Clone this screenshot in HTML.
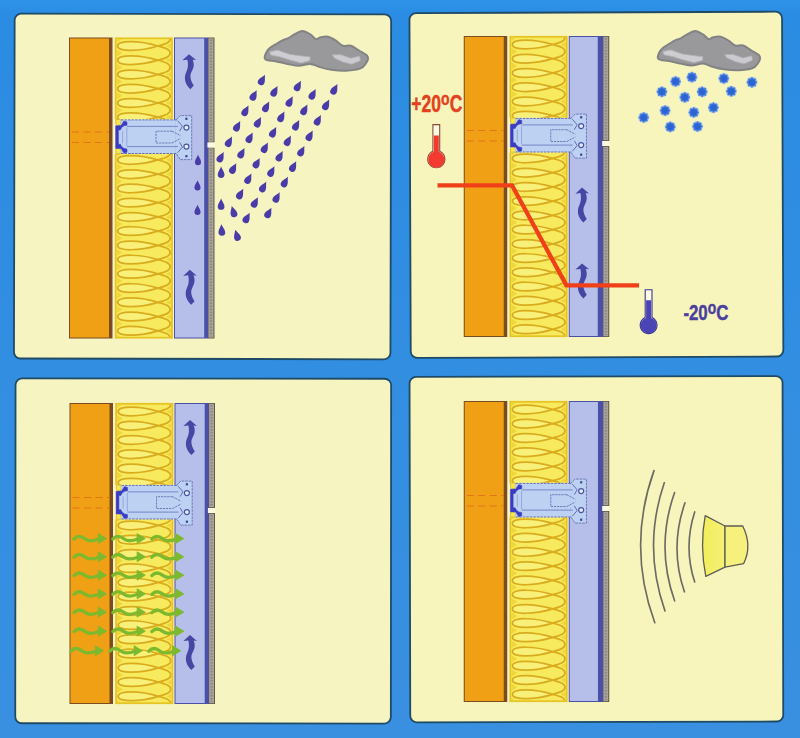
<!DOCTYPE html>
<html><head><meta charset="utf-8"><title>Ventilated facade</title>
<style>html,body{margin:0;padding:0;background:#2a8ce2;}body{width:800px;height:738px;overflow:hidden;font-family:"Liberation Sans",sans-serif;}svg{display:block}</style>
</head><body>
<svg width="800" height="738" viewBox="0 0 800 738" font-family="'Liberation Sans', sans-serif">
<defs><radialGradient id="snow"><stop offset="0" stop-color="#2f66d2"/><stop offset="0.55" stop-color="#3a78dc"/><stop offset="0.8" stop-color="#a9c4e6" stop-opacity="0.8"/><stop offset="1" stop-color="#e8efd8" stop-opacity="0"/></radialGradient>
<linearGradient id="bgv" x1="0" y1="0" x2="0" y2="1"><stop offset="0" stop-color="#2e94ea"/><stop offset="0.02" stop-color="#2a8ce2"/><stop offset="1" stop-color="#3a90e0"/></linearGradient>
<linearGradient id="cone" x1="0" y1="0" x2="1" y2="0"><stop offset="0" stop-color="#f2ee58"/><stop offset="1" stop-color="#f5f078"/></linearGradient>
<filter id="b1" x="-20%" y="-20%" width="140%" height="140%"><feGaussianBlur stdDeviation="0.7"/></filter>
<filter id="b0" x="-10%" y="-10%" width="120%" height="120%"><feGaussianBlur stdDeviation="0.55"/></filter>
</defs>
<rect width="800" height="738" fill="url(#bgv)"/>
<rect x="14.3" y="14" width="376.5" height="344.9" rx="6.5" fill="#f6f4c0" stroke="#1f4a66" stroke-width="1.8" transform="rotate(0.12 202.55 186.45)"/>
<rect x="410.1" y="12.4" width="372.6" height="344.8" rx="6.5" fill="#f7f5bc" stroke="#1f4a66" stroke-width="1.8" transform="rotate(-0.22 596.4000000000001 184.8)"/>
<rect x="15.4" y="378.6" width="375.6" height="344.8" rx="6.5" fill="#f6f4c0" stroke="#1f4a66" stroke-width="1.8" transform="rotate(0.05 203.20000000000002 551.0)"/>
<rect x="409.9" y="376.5" width="373" height="345.4" rx="6.5" fill="#f7f5bc" stroke="#1f4a66" stroke-width="1.8" transform="rotate(-0.12 596.4 549.2)"/>
<g transform="translate(69,37.5)">
<rect x="0" y="0" width="43.5" height="301" fill="#7a4c20"/>
<rect x="1" y="1" width="39" height="299" fill="#f0a014"/>
<path d="M3,94.5H40 M3,105H40" stroke="#e2741a" stroke-width="1.1" stroke-dasharray="7,4.5" fill="none"/>
<rect x="45" y="0" width="59.5" height="301" fill="#fbf7d0"/>
<rect x="46.6" y="0.8" width="56.4" height="299.4" fill="#f7ea5e" stroke="#e6c424" stroke-width="1.8"/>
<clipPath id="ci1"><rect x="47.4" y="1.6" width="54.8" height="297.8"/></clipPath>
<g clip-path="url(#ci1)" fill="#f9f07a" stroke="#d9ac1e" stroke-width="1.75">
<path d="M46.4,-3.1 L53.4,1.4 L46.4,5.9Z M103.2,-9.1 L96.7,-5.7 L103.2,-2.3Z M46.4,11.1 L53.4,15.6 L46.4,20.1Z M103.2,5.1 L96.7,8.5 L103.2,11.9Z M46.4,25.3 L53.4,29.9 L46.4,34.4Z M103.2,19.3 L96.7,22.7 L103.2,26.1Z M46.4,39.6 L53.4,44.1 L46.4,48.6Z M103.2,33.6 L96.7,37.0 L103.2,40.4Z M46.4,53.8 L53.4,58.3 L46.4,62.9Z M103.2,47.8 L96.7,51.2 L103.2,54.6Z M46.4,68.1 L53.4,72.6 L46.4,77.1Z M103.2,62.1 L96.7,65.5 L103.2,68.9Z M46.4,82.3 L53.4,86.8 L46.4,91.3Z M103.2,76.3 L96.7,79.7 L103.2,83.1Z M46.4,96.5 L53.4,101.1 L46.4,105.6Z M103.2,90.5 L96.7,93.9 L103.2,97.3Z M46.4,110.8 L53.4,115.3 L46.4,119.8Z M103.2,104.8 L96.7,108.2 L103.2,111.6Z M46.4,125.0 L53.4,129.5 L46.4,134.1Z M103.2,119.0 L96.7,122.4 L103.2,125.8Z M46.4,139.3 L53.4,143.8 L46.4,148.3Z M103.2,133.3 L96.7,136.7 L103.2,140.1Z M46.4,153.5 L53.4,158.0 L46.4,162.5Z M103.2,147.5 L96.7,150.9 L103.2,154.3Z M46.4,167.7 L53.4,172.3 L46.4,176.8Z M103.2,161.7 L96.7,165.1 L103.2,168.5Z M46.4,182.0 L53.4,186.5 L46.4,191.0Z M103.2,176.0 L96.7,179.4 L103.2,182.8Z M46.4,196.2 L53.4,200.7 L46.4,205.3Z M103.2,190.2 L96.7,193.6 L103.2,197.0Z M46.4,210.5 L53.4,215.0 L46.4,219.5Z M103.2,204.5 L96.7,207.9 L103.2,211.3Z M46.4,224.7 L53.4,229.2 L46.4,233.7Z M103.2,218.7 L96.7,222.1 L103.2,225.5Z M46.4,238.9 L53.4,243.5 L46.4,248.0Z M103.2,232.9 L96.7,236.3 L103.2,239.7Z M46.4,253.2 L53.4,257.7 L46.4,262.2Z M103.2,247.2 L96.7,250.6 L103.2,254.0Z M46.4,267.4 L53.4,271.9 L46.4,276.5Z M103.2,261.4 L96.7,264.8 L103.2,268.2Z M46.4,281.7 L53.4,286.2 L46.4,290.7Z M103.2,275.7 L96.7,279.1 L103.2,282.5Z M46.4,295.9 L53.4,300.4 L46.4,304.9Z M103.2,289.9 L96.7,293.3 L103.2,296.7Z M46.4,310.1 L53.4,314.7 L46.4,319.2Z M103.2,304.1 L96.7,307.5 L103.2,310.9Z" fill="#f0d63a" stroke="none"/>
<path d="M89.0,-5.7 C70.4,-11.3 48.6,-11.8 48.6,-5.7 C48.6,0.3 70.4,-0.2 89.0,-5.7Z"/>
<path d="M89.0,-5.7 C95.7,-3.9 101.2,-2.6 101.2,1.4 C101.2,5.4 95.7,6.6 89.0,8.5" fill="none"/>
<path d="M89.0,8.5 C70.4,2.9 48.6,2.5 48.6,8.5 C48.6,14.5 70.4,14.1 89.0,8.5Z"/>
<path d="M89.0,8.5 C95.7,10.4 101.2,11.6 101.2,15.6 C101.2,19.6 95.7,20.9 89.0,22.7" fill="none"/>
<path d="M89.0,22.7 C70.4,17.2 48.6,16.7 48.6,22.7 C48.6,28.8 70.4,28.3 89.0,22.7Z"/>
<path d="M89.0,22.7 C95.7,24.6 101.2,25.9 101.2,29.9 C101.2,33.8 95.7,35.1 89.0,37.0" fill="none"/>
<path d="M89.0,37.0 C70.4,31.4 48.6,31.0 48.6,37.0 C48.6,43.0 70.4,42.6 89.0,37.0Z"/>
<path d="M89.0,37.0 C95.7,38.8 101.2,40.1 101.2,44.1 C101.2,48.1 95.7,49.4 89.0,51.2" fill="none"/>
<path d="M89.0,51.2 C70.4,45.6 48.6,45.2 48.6,51.2 C48.6,57.2 70.4,56.8 89.0,51.2Z"/>
<path d="M89.0,51.2 C95.7,53.1 101.2,54.4 101.2,58.3 C101.2,62.3 95.7,63.6 89.0,65.5" fill="none"/>
<path d="M89.0,65.5 C70.4,59.9 48.6,59.4 48.6,65.5 C48.6,71.5 70.4,71.1 89.0,65.5Z"/>
<path d="M89.0,65.5 C95.7,67.3 101.2,68.6 101.2,72.6 C101.2,76.6 95.7,77.8 89.0,79.7" fill="none"/>
<path d="M89.0,79.7 C70.4,74.1 48.6,73.7 48.6,79.7 C48.6,85.7 70.4,85.3 89.0,79.7Z"/>
<path d="M89.0,79.7 C95.7,81.6 101.2,82.8 101.2,86.8 C101.2,90.8 95.7,92.1 89.0,93.9" fill="none"/>
<path d="M89.0,93.9 C70.4,88.3 48.6,87.9 48.6,93.9 C48.6,100.0 70.4,99.5 89.0,93.9Z"/>
<path d="M89.0,93.9 C95.7,95.8 101.2,97.1 101.2,101.1 C101.2,105.0 95.7,106.3 89.0,108.2" fill="none"/>
<path d="M89.0,108.2 C70.4,102.6 48.6,102.2 48.6,108.2 C48.6,114.2 70.4,113.8 89.0,108.2Z"/>
<path d="M89.0,108.2 C95.7,110.0 101.2,111.3 101.2,115.3 C101.2,119.3 95.7,120.6 89.0,122.4" fill="none"/>
<path d="M89.0,122.4 C70.4,116.8 48.6,116.4 48.6,122.4 C48.6,128.4 70.4,128.0 89.0,122.4Z"/>
<path d="M89.0,122.4 C95.7,124.3 101.2,125.6 101.2,129.5 C101.2,133.5 95.7,134.8 89.0,136.7" fill="none"/>
<path d="M89.0,136.7 C70.4,131.1 48.6,130.6 48.6,136.7 C48.6,142.7 70.4,142.2 89.0,136.7Z"/>
<path d="M89.0,136.7 C95.7,138.5 101.2,139.8 101.2,143.8 C101.2,147.8 95.7,149.0 89.0,150.9" fill="none"/>
<path d="M89.0,150.9 C70.4,145.3 48.6,144.9 48.6,150.9 C48.6,156.9 70.4,156.5 89.0,150.9Z"/>
<path d="M89.0,150.9 C95.7,152.8 101.2,154.0 101.2,158.0 C101.2,162.0 95.7,163.3 89.0,165.1" fill="none"/>
<path d="M89.0,165.1 C70.4,159.6 48.6,159.1 48.6,165.1 C48.6,171.2 70.4,170.7 89.0,165.1Z"/>
<path d="M89.0,165.1 C95.7,167.0 101.2,168.3 101.2,172.3 C101.2,176.2 95.7,177.5 89.0,179.4" fill="none"/>
<path d="M89.0,179.4 C70.4,173.8 48.6,173.4 48.6,179.4 C48.6,185.4 70.4,185.0 89.0,179.4Z"/>
<path d="M89.0,179.4 C95.7,181.2 101.2,182.5 101.2,186.5 C101.2,190.5 95.7,191.8 89.0,193.6" fill="none"/>
<path d="M89.0,193.6 C70.4,188.0 48.6,187.6 48.6,193.6 C48.6,199.6 70.4,199.2 89.0,193.6Z"/>
<path d="M89.0,193.6 C95.7,195.5 101.2,196.8 101.2,200.7 C101.2,204.7 95.7,206.0 89.0,207.9" fill="none"/>
<path d="M89.0,207.9 C70.4,202.3 48.6,201.8 48.6,207.9 C48.6,213.9 70.4,213.5 89.0,207.9Z"/>
<path d="M89.0,207.9 C95.7,209.7 101.2,211.0 101.2,215.0 C101.2,219.0 95.7,220.2 89.0,222.1" fill="none"/>
<path d="M89.0,222.1 C70.4,216.5 48.6,216.1 48.6,222.1 C48.6,228.1 70.4,227.7 89.0,222.1Z"/>
<path d="M89.0,222.1 C95.7,224.0 101.2,225.2 101.2,229.2 C101.2,233.2 95.7,234.5 89.0,236.3" fill="none"/>
<path d="M89.0,236.3 C70.4,230.8 48.6,230.3 48.6,236.3 C48.6,242.4 70.4,241.9 89.0,236.3Z"/>
<path d="M89.0,236.3 C95.7,238.2 101.2,239.5 101.2,243.5 C101.2,247.4 95.7,248.7 89.0,250.6" fill="none"/>
<path d="M89.0,250.6 C70.4,245.0 48.6,244.6 48.6,250.6 C48.6,256.6 70.4,256.2 89.0,250.6Z"/>
<path d="M89.0,250.6 C95.7,252.4 101.2,253.7 101.2,257.7 C101.2,261.7 95.7,263.0 89.0,264.8" fill="none"/>
<path d="M89.0,264.8 C70.4,259.2 48.6,258.8 48.6,264.8 C48.6,270.8 70.4,270.4 89.0,264.8Z"/>
<path d="M89.0,264.8 C95.7,266.7 101.2,268.0 101.2,271.9 C101.2,275.9 95.7,277.2 89.0,279.1" fill="none"/>
<path d="M89.0,279.1 C70.4,273.5 48.6,273.0 48.6,279.1 C48.6,285.1 70.4,284.7 89.0,279.1Z"/>
<path d="M89.0,279.1 C95.7,280.9 101.2,282.2 101.2,286.2 C101.2,290.2 95.7,291.4 89.0,293.3" fill="none"/>
<path d="M89.0,293.3 C70.4,287.7 48.6,287.3 48.6,293.3 C48.6,299.3 70.4,298.9 89.0,293.3Z"/>
<path d="M89.0,293.3 C95.7,295.2 101.2,296.4 101.2,300.4 C101.2,304.4 95.7,305.7 89.0,307.5" fill="none"/>
<path d="M89.0,307.5 C70.4,302.0 48.6,301.5 48.6,307.5 C48.6,313.6 70.4,313.1 89.0,307.5Z"/>
<path d="M89.0,307.5 C95.7,309.4 101.2,310.7 101.2,314.7 C101.2,318.6 95.7,319.9 89.0,321.8" fill="none"/>
</g>
<rect x="105" y="0" width="34.5" height="301" fill="#4a50a8"/>
<rect x="106" y="1" width="29.19999999999999" height="299" fill="#b6bfe9"/>
<rect x="139.2" y="0" width="6.3" height="105" fill="#5c5a42"/>
<rect x="139.6" y="0.8" width="4.9" height="103.4" fill="#aaa29c"/>
<rect x="139.2" y="110" width="6.3" height="191" fill="#5c5a42"/>
<rect x="139.6" y="110.8" width="4.9" height="189.4" fill="#aaa29c"/>
<path d="M142,2V103 M142,112V299" stroke="#8c8680" stroke-width="2.2" stroke-dasharray="1.6,1.4" fill="none"/>
<rect x="138.4" y="105" width="7.4" height="5" fill="#fbfae0"/>
<rect x="45" y="81.8" width="60" height="34.6" fill="#fbf7d0"/>
<path d="M46.8,82h4.8v3.6a2.4,2.6 0 0 1 -4.8,0z M46.8,116.2h4.8v-3.4a2.4,2.6 0 0 0 -4.8,0z" fill="#f6e84a" stroke="#dab424" stroke-width="0.9"/>
<rect x="51.6" y="82.4" width="57" height="33.6" fill="#bdd1f2"/>
<rect x="47" y="88.4" width="6" height="22.4" fill="#bdd1f2"/>
<path d="M52,82.4H108.4 M52,116H108.4" stroke="#6470b2" stroke-width="1" stroke-dasharray="2.6,0.9" fill="none"/>
<path d="M107.2,82.4 L111.2,78.1 L122.7,78.1 L122.7,122.1 L111.2,122.1 L107.2,116 Z" fill="#bdd1f2" stroke="#6470b2" stroke-width="0.9" stroke-dasharray="2.6,0.9"/>
<path d="M106.4,83 h2.6 v32.4 h-2.6z" fill="#bdd1f2"/>
<path d="M58,88.9H109 M58,109.1H109" stroke="#7888c6" stroke-width="1" fill="none"/>
<path d="M103,93.7H87V105.5H103 M103,93.7 L111.6,98.2 M103,105.5 L111.6,101" stroke="#6470b2" stroke-width="0.9" stroke-dasharray="2.2,0.9" fill="none"/>
<path d="M108.6,83.2 L113.4,88.8 L110.6,93.6 M108.6,115.2 L113.4,109.6 L110.6,104.8" stroke="#5862aa" stroke-width="0.9" fill="none"/>
<path d="M46.6,88.3 L46.6,110.9 L52,111.1 L53.8,113.9 L55,115.6 L58,114.7 L58,111.5 L55,110.9 L52.6,109.1 L51.4,106.7 L49.4,106.7 L49.4,92.5 L51.4,92.5 L52.6,90.1 L55,88.3 L58,87.7 L58,84.5 L55,83.6 L53.8,85.3 L52,88.1 Z" fill="#3a3cc2" stroke="#3a3cc2" stroke-width="0.5" stroke-linejoin="round"/>
<path d="M53.6,93.5V105.7 M57.8,90V108.2" stroke="#8c9cd6" stroke-width="0.8" fill="none"/>
<circle cx="117.4" cy="90.1" r="2.5" fill="#e6ecfb" stroke="#4a54a4" stroke-width="1.2"/>
<circle cx="117.4" cy="109.1" r="2.5" fill="#e6ecfb" stroke="#4a54a4" stroke-width="1.2"/>
<rect x="116.3" y="80.2" width="2.2" height="2.2" fill="#3c4498"/>
<rect x="116.3" y="117.6" width="2.2" height="2.2" fill="#3c4498"/>
</g>
<g transform="translate(189.0,54.2)" fill="#4646a4"><path d="M0,0 L7,5.9 L3.6,5.5 C5.6,9.8 4.8,13.6 2.6,17.6 C0.6,21.2 1,25.6 4.8,31.4 L1.4,35 C-4.2,30 -5.4,23.4 -2.8,18 C-0.9,14 -0.6,10 -1.6,5.5 L-6.6,6.1 Z"/></g>
<g transform="translate(189.8,269.8)" fill="#4646a4"><path d="M0,0 L7,5.9 L3.6,5.5 C5.6,9.8 4.8,13.6 2.6,17.6 C0.6,21.2 1,25.6 4.8,31.4 L1.4,35 C-4.2,30 -5.4,23.4 -2.8,18 C-0.9,14 -0.6,10 -1.6,5.5 L-6.6,6.1 Z"/></g>
<g transform="translate(255,20) scale(1.0)"><path d="M9.7,38.2 C9.5,36.8 10.8,33.4 11.7,31.7 C12.6,29.9 13.7,29.0 15.4,27.6 C17.1,26.3 19.9,24.8 21.9,23.6 C24.0,22.3 25.7,21.2 27.6,20.3 C29.5,19.4 31.4,19.1 33.3,18.2 C35.2,17.3 36.7,15.8 39.0,14.6 C41.3,13.4 44.4,11.1 47.1,11.0 C49.8,11.0 52.9,12.9 55.2,14.3 C57.6,15.7 59.3,18.6 60.9,19.2 C62.6,19.7 63.0,18.0 65.0,17.5 C67.0,17.1 70.4,16.2 73.1,16.7 C75.8,17.3 78.8,19.3 81.2,20.8 C83.7,22.3 85.3,24.9 87.7,25.7 C90.2,26.5 93.2,24.9 95.9,25.7 C98.6,26.5 101.3,28.9 104.0,30.5 C106.7,32.2 110.7,34.2 112.1,35.7 C113.6,37.3 113.0,38.5 112.8,39.8 C112.5,41.2 111.7,42.4 110.5,43.9 C109.3,45.3 108.9,47.3 105.6,48.4 C102.4,49.6 95.9,50.5 91.0,50.7 C86.1,50.9 80.7,50.3 76.4,49.7 C72.0,49.1 68.5,48.1 65.0,47.1 C61.5,46.1 58.8,44.1 55.2,43.9 C51.7,43.7 47.7,45.8 43.9,45.8 C40.1,45.8 36.3,44.6 32.5,43.9 C28.7,43.1 24.4,42.0 21.1,41.4 C17.9,40.8 14.9,40.8 13.0,40.3 C11.1,39.8 10.0,39.6 9.7,38.2 Z" fill="#99999c" stroke="#838384" stroke-width="2" stroke-linejoin="round" filter="url(#b0)"/><polygon points="14.9,31.8 22.7,30.2 34.9,34.4 47.1,36.1 55.2,37.0 54.9,40.6 46.3,42.9 34.9,40.0 24.4,36.7 15.9,35.1" fill="#cdcdd2" stroke="#b4b4b8" stroke-width="0.8" stroke-linejoin="round" filter="url(#b1)"/><polygon points="77.3,34.8 86.1,34.8 95.9,38.3 104.6,36.1 105.3,40.6 96.8,44.2 87.7,41.9 79.3,38.0" fill="#cacad0" stroke="#b0b0b6" stroke-width="0.8" stroke-linejoin="round" filter="url(#b1)"/></g>
<path transform="translate(262.2,80.0) rotate(28) scale(0.94)" d="M0,-6.4 C1.2,-3.2 3.6,-0.6 3.6,2.2 A3.6,3.6 0 0 1 -3.6,2.2 C-3.6,-0.6 -1.2,-3.2 0,-6.4Z" fill="#4a3ca8"/>
<path transform="translate(253.9,95.5) rotate(28) scale(0.94)" d="M0,-6.4 C1.2,-3.2 3.6,-0.6 3.6,2.2 A3.6,3.6 0 0 1 -3.6,2.2 C-3.6,-0.6 -1.2,-3.2 0,-6.4Z" fill="#4a3ca8"/>
<path transform="translate(245.7,110.9) rotate(28) scale(0.94)" d="M0,-6.4 C1.2,-3.2 3.6,-0.6 3.6,2.2 A3.6,3.6 0 0 1 -3.6,2.2 C-3.6,-0.6 -1.2,-3.2 0,-6.4Z" fill="#4a3ca8"/>
<path transform="translate(237.4,126.3) rotate(28) scale(0.94)" d="M0,-6.4 C1.2,-3.2 3.6,-0.6 3.6,2.2 A3.6,3.6 0 0 1 -3.6,2.2 C-3.6,-0.6 -1.2,-3.2 0,-6.4Z" fill="#4a3ca8"/>
<path transform="translate(229.2,141.8) rotate(28) scale(0.94)" d="M0,-6.4 C1.2,-3.2 3.6,-0.6 3.6,2.2 A3.6,3.6 0 0 1 -3.6,2.2 C-3.6,-0.6 -1.2,-3.2 0,-6.4Z" fill="#4a3ca8"/>
<path transform="translate(220.9,157.2) rotate(28) scale(0.94)" d="M0,-6.4 C1.2,-3.2 3.6,-0.6 3.6,2.2 A3.6,3.6 0 0 1 -3.6,2.2 C-3.6,-0.6 -1.2,-3.2 0,-6.4Z" fill="#4a3ca8"/>
<path transform="translate(274.7,91.4) rotate(28) scale(0.94)" d="M0,-6.4 C1.2,-3.2 3.6,-0.6 3.6,2.2 A3.6,3.6 0 0 1 -3.6,2.2 C-3.6,-0.6 -1.2,-3.2 0,-6.4Z" fill="#4a3ca8"/>
<path transform="translate(266.4,106.9) rotate(28) scale(0.94)" d="M0,-6.4 C1.2,-3.2 3.6,-0.6 3.6,2.2 A3.6,3.6 0 0 1 -3.6,2.2 C-3.6,-0.6 -1.2,-3.2 0,-6.4Z" fill="#4a3ca8"/>
<path transform="translate(258.2,122.3) rotate(28) scale(0.94)" d="M0,-6.4 C1.2,-3.2 3.6,-0.6 3.6,2.2 A3.6,3.6 0 0 1 -3.6,2.2 C-3.6,-0.6 -1.2,-3.2 0,-6.4Z" fill="#4a3ca8"/>
<path transform="translate(249.9,137.8) rotate(28) scale(0.94)" d="M0,-6.4 C1.2,-3.2 3.6,-0.6 3.6,2.2 A3.6,3.6 0 0 1 -3.6,2.2 C-3.6,-0.6 -1.2,-3.2 0,-6.4Z" fill="#4a3ca8"/>
<path transform="translate(241.7,153.2) rotate(28) scale(0.94)" d="M0,-6.4 C1.2,-3.2 3.6,-0.6 3.6,2.2 A3.6,3.6 0 0 1 -3.6,2.2 C-3.6,-0.6 -1.2,-3.2 0,-6.4Z" fill="#4a3ca8"/>
<path transform="translate(233.4,168.6) rotate(28) scale(0.94)" d="M0,-6.4 C1.2,-3.2 3.6,-0.6 3.6,2.2 A3.6,3.6 0 0 1 -3.6,2.2 C-3.6,-0.6 -1.2,-3.2 0,-6.4Z" fill="#4a3ca8"/>
<path transform="translate(298.1,86.0) rotate(28) scale(0.94)" d="M0,-6.4 C1.2,-3.2 3.6,-0.6 3.6,2.2 A3.6,3.6 0 0 1 -3.6,2.2 C-3.6,-0.6 -1.2,-3.2 0,-6.4Z" fill="#4a3ca8"/>
<path transform="translate(289.9,101.5) rotate(28) scale(0.94)" d="M0,-6.4 C1.2,-3.2 3.6,-0.6 3.6,2.2 A3.6,3.6 0 0 1 -3.6,2.2 C-3.6,-0.6 -1.2,-3.2 0,-6.4Z" fill="#4a3ca8"/>
<path transform="translate(281.6,116.9) rotate(28) scale(0.94)" d="M0,-6.4 C1.2,-3.2 3.6,-0.6 3.6,2.2 A3.6,3.6 0 0 1 -3.6,2.2 C-3.6,-0.6 -1.2,-3.2 0,-6.4Z" fill="#4a3ca8"/>
<path transform="translate(273.4,132.3) rotate(28) scale(0.94)" d="M0,-6.4 C1.2,-3.2 3.6,-0.6 3.6,2.2 A3.6,3.6 0 0 1 -3.6,2.2 C-3.6,-0.6 -1.2,-3.2 0,-6.4Z" fill="#4a3ca8"/>
<path transform="translate(265.1,147.8) rotate(28) scale(0.94)" d="M0,-6.4 C1.2,-3.2 3.6,-0.6 3.6,2.2 A3.6,3.6 0 0 1 -3.6,2.2 C-3.6,-0.6 -1.2,-3.2 0,-6.4Z" fill="#4a3ca8"/>
<path transform="translate(256.9,163.2) rotate(28) scale(0.94)" d="M0,-6.4 C1.2,-3.2 3.6,-0.6 3.6,2.2 A3.6,3.6 0 0 1 -3.6,2.2 C-3.6,-0.6 -1.2,-3.2 0,-6.4Z" fill="#4a3ca8"/>
<path transform="translate(248.6,178.7) rotate(28) scale(0.94)" d="M0,-6.4 C1.2,-3.2 3.6,-0.6 3.6,2.2 A3.6,3.6 0 0 1 -3.6,2.2 C-3.6,-0.6 -1.2,-3.2 0,-6.4Z" fill="#4a3ca8"/>
<path transform="translate(240.4,194.1) rotate(28) scale(0.94)" d="M0,-6.4 C1.2,-3.2 3.6,-0.6 3.6,2.2 A3.6,3.6 0 0 1 -3.6,2.2 C-3.6,-0.6 -1.2,-3.2 0,-6.4Z" fill="#4a3ca8"/>
<path transform="translate(312.9,94.4) rotate(28) scale(0.94)" d="M0,-6.4 C1.2,-3.2 3.6,-0.6 3.6,2.2 A3.6,3.6 0 0 1 -3.6,2.2 C-3.6,-0.6 -1.2,-3.2 0,-6.4Z" fill="#4a3ca8"/>
<path transform="translate(304.6,109.9) rotate(28) scale(0.94)" d="M0,-6.4 C1.2,-3.2 3.6,-0.6 3.6,2.2 A3.6,3.6 0 0 1 -3.6,2.2 C-3.6,-0.6 -1.2,-3.2 0,-6.4Z" fill="#4a3ca8"/>
<path transform="translate(296.4,125.3) rotate(28) scale(0.94)" d="M0,-6.4 C1.2,-3.2 3.6,-0.6 3.6,2.2 A3.6,3.6 0 0 1 -3.6,2.2 C-3.6,-0.6 -1.2,-3.2 0,-6.4Z" fill="#4a3ca8"/>
<path transform="translate(288.1,140.8) rotate(28) scale(0.94)" d="M0,-6.4 C1.2,-3.2 3.6,-0.6 3.6,2.2 A3.6,3.6 0 0 1 -3.6,2.2 C-3.6,-0.6 -1.2,-3.2 0,-6.4Z" fill="#4a3ca8"/>
<path transform="translate(279.9,156.2) rotate(28) scale(0.94)" d="M0,-6.4 C1.2,-3.2 3.6,-0.6 3.6,2.2 A3.6,3.6 0 0 1 -3.6,2.2 C-3.6,-0.6 -1.2,-3.2 0,-6.4Z" fill="#4a3ca8"/>
<path transform="translate(271.6,171.6) rotate(28) scale(0.94)" d="M0,-6.4 C1.2,-3.2 3.6,-0.6 3.6,2.2 A3.6,3.6 0 0 1 -3.6,2.2 C-3.6,-0.6 -1.2,-3.2 0,-6.4Z" fill="#4a3ca8"/>
<path transform="translate(263.4,187.1) rotate(28) scale(0.94)" d="M0,-6.4 C1.2,-3.2 3.6,-0.6 3.6,2.2 A3.6,3.6 0 0 1 -3.6,2.2 C-3.6,-0.6 -1.2,-3.2 0,-6.4Z" fill="#4a3ca8"/>
<path transform="translate(255.1,202.5) rotate(28) scale(0.94)" d="M0,-6.4 C1.2,-3.2 3.6,-0.6 3.6,2.2 A3.6,3.6 0 0 1 -3.6,2.2 C-3.6,-0.6 -1.2,-3.2 0,-6.4Z" fill="#4a3ca8"/>
<path transform="translate(246.9,218.0) rotate(28) scale(0.94)" d="M0,-6.4 C1.2,-3.2 3.6,-0.6 3.6,2.2 A3.6,3.6 0 0 1 -3.6,2.2 C-3.6,-0.6 -1.2,-3.2 0,-6.4Z" fill="#4a3ca8"/>
<path transform="translate(334.6,89.4) rotate(28) scale(0.94)" d="M0,-6.4 C1.2,-3.2 3.6,-0.6 3.6,2.2 A3.6,3.6 0 0 1 -3.6,2.2 C-3.6,-0.6 -1.2,-3.2 0,-6.4Z" fill="#4a3ca8"/>
<path transform="translate(326.4,104.9) rotate(28) scale(0.94)" d="M0,-6.4 C1.2,-3.2 3.6,-0.6 3.6,2.2 A3.6,3.6 0 0 1 -3.6,2.2 C-3.6,-0.6 -1.2,-3.2 0,-6.4Z" fill="#4a3ca8"/>
<path transform="translate(318.1,120.3) rotate(28) scale(0.94)" d="M0,-6.4 C1.2,-3.2 3.6,-0.6 3.6,2.2 A3.6,3.6 0 0 1 -3.6,2.2 C-3.6,-0.6 -1.2,-3.2 0,-6.4Z" fill="#4a3ca8"/>
<path transform="translate(309.9,135.8) rotate(28) scale(0.94)" d="M0,-6.4 C1.2,-3.2 3.6,-0.6 3.6,2.2 A3.6,3.6 0 0 1 -3.6,2.2 C-3.6,-0.6 -1.2,-3.2 0,-6.4Z" fill="#4a3ca8"/>
<path transform="translate(301.6,151.2) rotate(28) scale(0.94)" d="M0,-6.4 C1.2,-3.2 3.6,-0.6 3.6,2.2 A3.6,3.6 0 0 1 -3.6,2.2 C-3.6,-0.6 -1.2,-3.2 0,-6.4Z" fill="#4a3ca8"/>
<path transform="translate(293.4,166.6) rotate(28) scale(0.94)" d="M0,-6.4 C1.2,-3.2 3.6,-0.6 3.6,2.2 A3.6,3.6 0 0 1 -3.6,2.2 C-3.6,-0.6 -1.2,-3.2 0,-6.4Z" fill="#4a3ca8"/>
<path transform="translate(285.1,182.1) rotate(28) scale(0.94)" d="M0,-6.4 C1.2,-3.2 3.6,-0.6 3.6,2.2 A3.6,3.6 0 0 1 -3.6,2.2 C-3.6,-0.6 -1.2,-3.2 0,-6.4Z" fill="#4a3ca8"/>
<path transform="translate(276.9,197.5) rotate(28) scale(0.94)" d="M0,-6.4 C1.2,-3.2 3.6,-0.6 3.6,2.2 A3.6,3.6 0 0 1 -3.6,2.2 C-3.6,-0.6 -1.2,-3.2 0,-6.4Z" fill="#4a3ca8"/>
<path transform="translate(268.6,213.0) rotate(28) scale(0.94)" d="M0,-6.4 C1.2,-3.2 3.6,-0.6 3.6,2.2 A3.6,3.6 0 0 1 -3.6,2.2 C-3.6,-0.6 -1.2,-3.2 0,-6.4Z" fill="#4a3ca8"/>
<path transform="translate(221.1,172.5) rotate(0) scale(0.94)" d="M0,-6.4 C1.2,-3.2 3.6,-0.6 3.6,2.2 A3.6,3.6 0 0 1 -3.6,2.2 C-3.6,-0.6 -1.2,-3.2 0,-6.4Z" fill="#4a3ca8"/>
<path transform="translate(221.1,204.4) rotate(0) scale(0.94)" d="M0,-6.4 C1.2,-3.2 3.6,-0.6 3.6,2.2 A3.6,3.6 0 0 1 -3.6,2.2 C-3.6,-0.6 -1.2,-3.2 0,-6.4Z" fill="#4a3ca8"/>
<path transform="translate(221.7,230.3) rotate(-4) scale(0.94)" d="M0,-6.4 C1.2,-3.2 3.6,-0.6 3.6,2.2 A3.6,3.6 0 0 1 -3.6,2.2 C-3.6,-0.6 -1.2,-3.2 0,-6.4Z" fill="#4a3ca8"/>
<path transform="translate(233.4,211.9) rotate(-16) scale(0.94)" d="M0,-6.4 C1.2,-3.2 3.6,-0.6 3.6,2.2 A3.6,3.6 0 0 1 -3.6,2.2 C-3.6,-0.6 -1.2,-3.2 0,-6.4Z" fill="#4a3ca8"/>
<path transform="translate(236.9,235.5) rotate(-16) scale(0.94)" d="M0,-6.4 C1.2,-3.2 3.6,-0.6 3.6,2.2 A3.6,3.6 0 0 1 -3.6,2.2 C-3.6,-0.6 -1.2,-3.2 0,-6.4Z" fill="#4a3ca8"/>
<path transform="translate(198.0,160.3) rotate(0) scale(0.85)" d="M0,-6.4 C1.2,-3.2 3.6,-0.6 3.6,2.2 A3.6,3.6 0 0 1 -3.6,2.2 C-3.6,-0.6 -1.2,-3.2 0,-6.4Z" fill="#4a3ca8"/>
<path transform="translate(197.5,185.6) rotate(0) scale(0.85)" d="M0,-6.4 C1.2,-3.2 3.6,-0.6 3.6,2.2 A3.6,3.6 0 0 1 -3.6,2.2 C-3.6,-0.6 -1.2,-3.2 0,-6.4Z" fill="#4a3ca8"/>
<path transform="translate(197.5,210.1) rotate(0) scale(0.85)" d="M0,-6.4 C1.2,-3.2 3.6,-0.6 3.6,2.2 A3.6,3.6 0 0 1 -3.6,2.2 C-3.6,-0.6 -1.2,-3.2 0,-6.4Z" fill="#4a3ca8"/>
<g transform="translate(463.75,36)">
<rect x="0" y="0" width="43.5" height="301" fill="#7a4c20"/>
<rect x="1" y="1" width="39" height="299" fill="#f0a014"/>
<path d="M3,94.5H40 M3,105H40" stroke="#e2741a" stroke-width="1.1" stroke-dasharray="7,4.5" fill="none"/>
<rect x="45" y="0" width="59.5" height="301" fill="#fbf7d0"/>
<rect x="46.6" y="0.8" width="56.4" height="299.4" fill="#f7ea5e" stroke="#e6c424" stroke-width="1.8"/>
<clipPath id="ci2"><rect x="47.4" y="1.6" width="54.8" height="297.8"/></clipPath>
<g clip-path="url(#ci2)" fill="#f9f07a" stroke="#d9ac1e" stroke-width="1.75">
<path d="M46.4,-3.1 L53.4,1.4 L46.4,5.9Z M103.2,-9.1 L96.7,-5.7 L103.2,-2.3Z M46.4,11.1 L53.4,15.6 L46.4,20.1Z M103.2,5.1 L96.7,8.5 L103.2,11.9Z M46.4,25.3 L53.4,29.9 L46.4,34.4Z M103.2,19.3 L96.7,22.7 L103.2,26.1Z M46.4,39.6 L53.4,44.1 L46.4,48.6Z M103.2,33.6 L96.7,37.0 L103.2,40.4Z M46.4,53.8 L53.4,58.3 L46.4,62.9Z M103.2,47.8 L96.7,51.2 L103.2,54.6Z M46.4,68.1 L53.4,72.6 L46.4,77.1Z M103.2,62.1 L96.7,65.5 L103.2,68.9Z M46.4,82.3 L53.4,86.8 L46.4,91.3Z M103.2,76.3 L96.7,79.7 L103.2,83.1Z M46.4,96.5 L53.4,101.1 L46.4,105.6Z M103.2,90.5 L96.7,93.9 L103.2,97.3Z M46.4,110.8 L53.4,115.3 L46.4,119.8Z M103.2,104.8 L96.7,108.2 L103.2,111.6Z M46.4,125.0 L53.4,129.5 L46.4,134.1Z M103.2,119.0 L96.7,122.4 L103.2,125.8Z M46.4,139.3 L53.4,143.8 L46.4,148.3Z M103.2,133.3 L96.7,136.7 L103.2,140.1Z M46.4,153.5 L53.4,158.0 L46.4,162.5Z M103.2,147.5 L96.7,150.9 L103.2,154.3Z M46.4,167.7 L53.4,172.3 L46.4,176.8Z M103.2,161.7 L96.7,165.1 L103.2,168.5Z M46.4,182.0 L53.4,186.5 L46.4,191.0Z M103.2,176.0 L96.7,179.4 L103.2,182.8Z M46.4,196.2 L53.4,200.7 L46.4,205.3Z M103.2,190.2 L96.7,193.6 L103.2,197.0Z M46.4,210.5 L53.4,215.0 L46.4,219.5Z M103.2,204.5 L96.7,207.9 L103.2,211.3Z M46.4,224.7 L53.4,229.2 L46.4,233.7Z M103.2,218.7 L96.7,222.1 L103.2,225.5Z M46.4,238.9 L53.4,243.5 L46.4,248.0Z M103.2,232.9 L96.7,236.3 L103.2,239.7Z M46.4,253.2 L53.4,257.7 L46.4,262.2Z M103.2,247.2 L96.7,250.6 L103.2,254.0Z M46.4,267.4 L53.4,271.9 L46.4,276.5Z M103.2,261.4 L96.7,264.8 L103.2,268.2Z M46.4,281.7 L53.4,286.2 L46.4,290.7Z M103.2,275.7 L96.7,279.1 L103.2,282.5Z M46.4,295.9 L53.4,300.4 L46.4,304.9Z M103.2,289.9 L96.7,293.3 L103.2,296.7Z M46.4,310.1 L53.4,314.7 L46.4,319.2Z M103.2,304.1 L96.7,307.5 L103.2,310.9Z" fill="#f0d63a" stroke="none"/>
<path d="M89.0,-5.7 C70.4,-11.3 48.6,-11.8 48.6,-5.7 C48.6,0.3 70.4,-0.2 89.0,-5.7Z"/>
<path d="M89.0,-5.7 C95.7,-3.9 101.2,-2.6 101.2,1.4 C101.2,5.4 95.7,6.6 89.0,8.5" fill="none"/>
<path d="M89.0,8.5 C70.4,2.9 48.6,2.5 48.6,8.5 C48.6,14.5 70.4,14.1 89.0,8.5Z"/>
<path d="M89.0,8.5 C95.7,10.4 101.2,11.6 101.2,15.6 C101.2,19.6 95.7,20.9 89.0,22.7" fill="none"/>
<path d="M89.0,22.7 C70.4,17.2 48.6,16.7 48.6,22.7 C48.6,28.8 70.4,28.3 89.0,22.7Z"/>
<path d="M89.0,22.7 C95.7,24.6 101.2,25.9 101.2,29.9 C101.2,33.8 95.7,35.1 89.0,37.0" fill="none"/>
<path d="M89.0,37.0 C70.4,31.4 48.6,31.0 48.6,37.0 C48.6,43.0 70.4,42.6 89.0,37.0Z"/>
<path d="M89.0,37.0 C95.7,38.8 101.2,40.1 101.2,44.1 C101.2,48.1 95.7,49.4 89.0,51.2" fill="none"/>
<path d="M89.0,51.2 C70.4,45.6 48.6,45.2 48.6,51.2 C48.6,57.2 70.4,56.8 89.0,51.2Z"/>
<path d="M89.0,51.2 C95.7,53.1 101.2,54.4 101.2,58.3 C101.2,62.3 95.7,63.6 89.0,65.5" fill="none"/>
<path d="M89.0,65.5 C70.4,59.9 48.6,59.4 48.6,65.5 C48.6,71.5 70.4,71.1 89.0,65.5Z"/>
<path d="M89.0,65.5 C95.7,67.3 101.2,68.6 101.2,72.6 C101.2,76.6 95.7,77.8 89.0,79.7" fill="none"/>
<path d="M89.0,79.7 C70.4,74.1 48.6,73.7 48.6,79.7 C48.6,85.7 70.4,85.3 89.0,79.7Z"/>
<path d="M89.0,79.7 C95.7,81.6 101.2,82.8 101.2,86.8 C101.2,90.8 95.7,92.1 89.0,93.9" fill="none"/>
<path d="M89.0,93.9 C70.4,88.3 48.6,87.9 48.6,93.9 C48.6,100.0 70.4,99.5 89.0,93.9Z"/>
<path d="M89.0,93.9 C95.7,95.8 101.2,97.1 101.2,101.1 C101.2,105.0 95.7,106.3 89.0,108.2" fill="none"/>
<path d="M89.0,108.2 C70.4,102.6 48.6,102.2 48.6,108.2 C48.6,114.2 70.4,113.8 89.0,108.2Z"/>
<path d="M89.0,108.2 C95.7,110.0 101.2,111.3 101.2,115.3 C101.2,119.3 95.7,120.6 89.0,122.4" fill="none"/>
<path d="M89.0,122.4 C70.4,116.8 48.6,116.4 48.6,122.4 C48.6,128.4 70.4,128.0 89.0,122.4Z"/>
<path d="M89.0,122.4 C95.7,124.3 101.2,125.6 101.2,129.5 C101.2,133.5 95.7,134.8 89.0,136.7" fill="none"/>
<path d="M89.0,136.7 C70.4,131.1 48.6,130.6 48.6,136.7 C48.6,142.7 70.4,142.2 89.0,136.7Z"/>
<path d="M89.0,136.7 C95.7,138.5 101.2,139.8 101.2,143.8 C101.2,147.8 95.7,149.0 89.0,150.9" fill="none"/>
<path d="M89.0,150.9 C70.4,145.3 48.6,144.9 48.6,150.9 C48.6,156.9 70.4,156.5 89.0,150.9Z"/>
<path d="M89.0,150.9 C95.7,152.8 101.2,154.0 101.2,158.0 C101.2,162.0 95.7,163.3 89.0,165.1" fill="none"/>
<path d="M89.0,165.1 C70.4,159.6 48.6,159.1 48.6,165.1 C48.6,171.2 70.4,170.7 89.0,165.1Z"/>
<path d="M89.0,165.1 C95.7,167.0 101.2,168.3 101.2,172.3 C101.2,176.2 95.7,177.5 89.0,179.4" fill="none"/>
<path d="M89.0,179.4 C70.4,173.8 48.6,173.4 48.6,179.4 C48.6,185.4 70.4,185.0 89.0,179.4Z"/>
<path d="M89.0,179.4 C95.7,181.2 101.2,182.5 101.2,186.5 C101.2,190.5 95.7,191.8 89.0,193.6" fill="none"/>
<path d="M89.0,193.6 C70.4,188.0 48.6,187.6 48.6,193.6 C48.6,199.6 70.4,199.2 89.0,193.6Z"/>
<path d="M89.0,193.6 C95.7,195.5 101.2,196.8 101.2,200.7 C101.2,204.7 95.7,206.0 89.0,207.9" fill="none"/>
<path d="M89.0,207.9 C70.4,202.3 48.6,201.8 48.6,207.9 C48.6,213.9 70.4,213.5 89.0,207.9Z"/>
<path d="M89.0,207.9 C95.7,209.7 101.2,211.0 101.2,215.0 C101.2,219.0 95.7,220.2 89.0,222.1" fill="none"/>
<path d="M89.0,222.1 C70.4,216.5 48.6,216.1 48.6,222.1 C48.6,228.1 70.4,227.7 89.0,222.1Z"/>
<path d="M89.0,222.1 C95.7,224.0 101.2,225.2 101.2,229.2 C101.2,233.2 95.7,234.5 89.0,236.3" fill="none"/>
<path d="M89.0,236.3 C70.4,230.8 48.6,230.3 48.6,236.3 C48.6,242.4 70.4,241.9 89.0,236.3Z"/>
<path d="M89.0,236.3 C95.7,238.2 101.2,239.5 101.2,243.5 C101.2,247.4 95.7,248.7 89.0,250.6" fill="none"/>
<path d="M89.0,250.6 C70.4,245.0 48.6,244.6 48.6,250.6 C48.6,256.6 70.4,256.2 89.0,250.6Z"/>
<path d="M89.0,250.6 C95.7,252.4 101.2,253.7 101.2,257.7 C101.2,261.7 95.7,263.0 89.0,264.8" fill="none"/>
<path d="M89.0,264.8 C70.4,259.2 48.6,258.8 48.6,264.8 C48.6,270.8 70.4,270.4 89.0,264.8Z"/>
<path d="M89.0,264.8 C95.7,266.7 101.2,268.0 101.2,271.9 C101.2,275.9 95.7,277.2 89.0,279.1" fill="none"/>
<path d="M89.0,279.1 C70.4,273.5 48.6,273.0 48.6,279.1 C48.6,285.1 70.4,284.7 89.0,279.1Z"/>
<path d="M89.0,279.1 C95.7,280.9 101.2,282.2 101.2,286.2 C101.2,290.2 95.7,291.4 89.0,293.3" fill="none"/>
<path d="M89.0,293.3 C70.4,287.7 48.6,287.3 48.6,293.3 C48.6,299.3 70.4,298.9 89.0,293.3Z"/>
<path d="M89.0,293.3 C95.7,295.2 101.2,296.4 101.2,300.4 C101.2,304.4 95.7,305.7 89.0,307.5" fill="none"/>
<path d="M89.0,307.5 C70.4,302.0 48.6,301.5 48.6,307.5 C48.6,313.6 70.4,313.1 89.0,307.5Z"/>
<path d="M89.0,307.5 C95.7,309.4 101.2,310.7 101.2,314.7 C101.2,318.6 95.7,319.9 89.0,321.8" fill="none"/>
</g>
<rect x="105" y="0" width="34.5" height="301" fill="#4a50a8"/>
<rect x="106" y="1" width="28" height="299" fill="#b6bfe9"/>
<rect x="139.2" y="0" width="6.3" height="105" fill="#5c5a42"/>
<rect x="139.6" y="0.8" width="4.9" height="103.4" fill="#aaa29c"/>
<rect x="139.2" y="110" width="6.3" height="191" fill="#5c5a42"/>
<rect x="139.6" y="110.8" width="4.9" height="189.4" fill="#aaa29c"/>
<path d="M142,2V103 M142,112V299" stroke="#8c8680" stroke-width="2.2" stroke-dasharray="1.6,1.4" fill="none"/>
<rect x="138.4" y="105" width="7.4" height="5" fill="#fbfae0"/>
<rect x="45" y="81.8" width="60" height="34.6" fill="#fbf7d0"/>
<path d="M46.8,82h4.8v3.6a2.4,2.6 0 0 1 -4.8,0z M46.8,116.2h4.8v-3.4a2.4,2.6 0 0 0 -4.8,0z" fill="#f6e84a" stroke="#dab424" stroke-width="0.9"/>
<rect x="51.6" y="82.4" width="57" height="33.6" fill="#bdd1f2"/>
<rect x="47" y="88.4" width="6" height="22.4" fill="#bdd1f2"/>
<path d="M52,82.4H108.4 M52,116H108.4" stroke="#6470b2" stroke-width="1" stroke-dasharray="2.6,0.9" fill="none"/>
<path d="M107.2,82.4 L111.2,78.1 L122.7,78.1 L122.7,122.1 L111.2,122.1 L107.2,116 Z" fill="#bdd1f2" stroke="#6470b2" stroke-width="0.9" stroke-dasharray="2.6,0.9"/>
<path d="M106.4,83 h2.6 v32.4 h-2.6z" fill="#bdd1f2"/>
<path d="M58,88.9H109 M58,109.1H109" stroke="#7888c6" stroke-width="1" fill="none"/>
<path d="M103,93.7H87V105.5H103 M103,93.7 L111.6,98.2 M103,105.5 L111.6,101" stroke="#6470b2" stroke-width="0.9" stroke-dasharray="2.2,0.9" fill="none"/>
<path d="M108.6,83.2 L113.4,88.8 L110.6,93.6 M108.6,115.2 L113.4,109.6 L110.6,104.8" stroke="#5862aa" stroke-width="0.9" fill="none"/>
<path d="M46.6,88.3 L46.6,110.9 L52,111.1 L53.8,113.9 L55,115.6 L58,114.7 L58,111.5 L55,110.9 L52.6,109.1 L51.4,106.7 L49.4,106.7 L49.4,92.5 L51.4,92.5 L52.6,90.1 L55,88.3 L58,87.7 L58,84.5 L55,83.6 L53.8,85.3 L52,88.1 Z" fill="#3a3cc2" stroke="#3a3cc2" stroke-width="0.5" stroke-linejoin="round"/>
<path d="M53.6,93.5V105.7 M57.8,90V108.2" stroke="#8c9cd6" stroke-width="0.8" fill="none"/>
<circle cx="117.4" cy="90.1" r="2.5" fill="#e6ecfb" stroke="#4a54a4" stroke-width="1.2"/>
<circle cx="117.4" cy="109.1" r="2.5" fill="#e6ecfb" stroke="#4a54a4" stroke-width="1.2"/>
<rect x="116.3" y="80.2" width="2.2" height="2.2" fill="#3c4498"/>
<rect x="116.3" y="117.6" width="2.2" height="2.2" fill="#3c4498"/>
</g>
<g transform="translate(582.0,187.6)" fill="#4646a4"><path d="M0,0 L7,5.9 L3.6,5.5 C5.6,9.8 4.8,13.6 2.6,17.6 C0.6,21.2 1,25.6 4.8,31.4 L1.4,35 C-4.2,30 -5.4,23.4 -2.8,18 C-0.9,14 -0.6,10 -1.6,5.5 L-6.6,6.1 Z"/></g>
<g transform="translate(582.0,263.4)" fill="#4646a4"><path d="M0,0 L7,5.9 L3.6,5.5 C5.6,9.8 4.8,13.6 2.6,17.6 C0.6,21.2 1,25.6 4.8,31.4 L1.4,35 C-4.2,30 -5.4,23.4 -2.8,18 C-0.9,14 -0.6,10 -1.6,5.5 L-6.6,6.1 Z"/></g>
<g transform="translate(648.2,20.1) scale(0.99)"><path d="M9.7,38.2 C9.5,36.8 10.8,33.4 11.7,31.7 C12.6,29.9 13.7,29.0 15.4,27.6 C17.1,26.3 19.9,24.8 21.9,23.6 C24.0,22.3 25.7,21.2 27.6,20.3 C29.5,19.4 31.4,19.1 33.3,18.2 C35.2,17.3 36.7,15.8 39.0,14.6 C41.3,13.4 44.4,11.1 47.1,11.0 C49.8,11.0 52.9,12.9 55.2,14.3 C57.6,15.7 59.3,18.6 60.9,19.2 C62.6,19.7 63.0,18.0 65.0,17.5 C67.0,17.1 70.4,16.2 73.1,16.7 C75.8,17.3 78.8,19.3 81.2,20.8 C83.7,22.3 85.3,24.9 87.7,25.7 C90.2,26.5 93.2,24.9 95.9,25.7 C98.6,26.5 101.3,28.9 104.0,30.5 C106.7,32.2 110.7,34.2 112.1,35.7 C113.6,37.3 113.0,38.5 112.8,39.8 C112.5,41.2 111.7,42.4 110.5,43.9 C109.3,45.3 108.9,47.3 105.6,48.4 C102.4,49.6 95.9,50.5 91.0,50.7 C86.1,50.9 80.7,50.3 76.4,49.7 C72.0,49.1 68.5,48.1 65.0,47.1 C61.5,46.1 58.8,44.1 55.2,43.9 C51.7,43.7 47.7,45.8 43.9,45.8 C40.1,45.8 36.3,44.6 32.5,43.9 C28.7,43.1 24.4,42.0 21.1,41.4 C17.9,40.8 14.9,40.8 13.0,40.3 C11.1,39.8 10.0,39.6 9.7,38.2 Z" fill="#99999c" stroke="#838384" stroke-width="2" stroke-linejoin="round" filter="url(#b0)"/><polygon points="14.9,31.8 22.7,30.2 34.9,34.4 47.1,36.1 55.2,37.0 54.9,40.6 46.3,42.9 34.9,40.0 24.4,36.7 15.9,35.1" fill="#cdcdd2" stroke="#b4b4b8" stroke-width="0.8" stroke-linejoin="round" filter="url(#b1)"/><polygon points="77.3,34.8 86.1,34.8 95.9,38.3 104.6,36.1 105.3,40.6 96.8,44.2 87.7,41.9 79.3,38.0" fill="#cacad0" stroke="#b0b0b6" stroke-width="0.8" stroke-linejoin="round" filter="url(#b1)"/></g>
<circle cx="691.9" cy="77.2" r="6.4" fill="url(#snow)"/>
<path transform="translate(691.9,77.2)" d="M0,-4.6V4.6M-4.6,0H4.6M-3.3,-3.3L3.3,3.3M-3.3,3.3L3.3,-3.3" stroke="#3a72da" stroke-width="1.5" stroke-linecap="round" filter="url(#b1)" opacity="0.8"/>
<circle cx="691.9" cy="77.2" r="3.1" fill="#2e64d2" filter="url(#b1)"/>
<circle cx="675.6" cy="81.5" r="6.4" fill="url(#snow)"/>
<path transform="translate(675.6,81.5)" d="M0,-4.6V4.6M-4.6,0H4.6M-3.3,-3.3L3.3,3.3M-3.3,3.3L3.3,-3.3" stroke="#3a72da" stroke-width="1.5" stroke-linecap="round" filter="url(#b1)" opacity="0.8"/>
<circle cx="675.6" cy="81.5" r="3.1" fill="#2e64d2" filter="url(#b1)"/>
<circle cx="723.8" cy="78.5" r="6.4" fill="url(#snow)"/>
<path transform="translate(723.8,78.5)" d="M0,-4.6V4.6M-4.6,0H4.6M-3.3,-3.3L3.3,3.3M-3.3,3.3L3.3,-3.3" stroke="#3a72da" stroke-width="1.5" stroke-linecap="round" filter="url(#b1)" opacity="0.8"/>
<circle cx="723.8" cy="78.5" r="3.1" fill="#2e64d2" filter="url(#b1)"/>
<circle cx="751.9" cy="82.3" r="6.4" fill="url(#snow)"/>
<path transform="translate(751.9,82.3)" d="M0,-4.6V4.6M-4.6,0H4.6M-3.3,-3.3L3.3,3.3M-3.3,3.3L3.3,-3.3" stroke="#3a72da" stroke-width="1.5" stroke-linecap="round" filter="url(#b1)" opacity="0.8"/>
<circle cx="751.9" cy="82.3" r="3.1" fill="#2e64d2" filter="url(#b1)"/>
<circle cx="661.9" cy="91.8" r="6.4" fill="url(#snow)"/>
<path transform="translate(661.9,91.8)" d="M0,-4.6V4.6M-4.6,0H4.6M-3.3,-3.3L3.3,3.3M-3.3,3.3L3.3,-3.3" stroke="#3a72da" stroke-width="1.5" stroke-linecap="round" filter="url(#b1)" opacity="0.8"/>
<circle cx="661.9" cy="91.8" r="3.1" fill="#2e64d2" filter="url(#b1)"/>
<circle cx="702.2" cy="91.8" r="6.4" fill="url(#snow)"/>
<path transform="translate(702.2,91.8)" d="M0,-4.6V4.6M-4.6,0H4.6M-3.3,-3.3L3.3,3.3M-3.3,3.3L3.3,-3.3" stroke="#3a72da" stroke-width="1.5" stroke-linecap="round" filter="url(#b1)" opacity="0.8"/>
<circle cx="702.2" cy="91.8" r="3.1" fill="#2e64d2" filter="url(#b1)"/>
<circle cx="731.3" cy="91.3" r="6.4" fill="url(#snow)"/>
<path transform="translate(731.3,91.3)" d="M0,-4.6V4.6M-4.6,0H4.6M-3.3,-3.3L3.3,3.3M-3.3,3.3L3.3,-3.3" stroke="#3a72da" stroke-width="1.5" stroke-linecap="round" filter="url(#b1)" opacity="0.8"/>
<circle cx="731.3" cy="91.3" r="3.1" fill="#2e64d2" filter="url(#b1)"/>
<circle cx="684.8" cy="97.3" r="6.4" fill="url(#snow)"/>
<path transform="translate(684.8,97.3)" d="M0,-4.6V4.6M-4.6,0H4.6M-3.3,-3.3L3.3,3.3M-3.3,3.3L3.3,-3.3" stroke="#3a72da" stroke-width="1.5" stroke-linecap="round" filter="url(#b1)" opacity="0.8"/>
<circle cx="684.8" cy="97.3" r="3.1" fill="#2e64d2" filter="url(#b1)"/>
<circle cx="713.4" cy="107.6" r="6.4" fill="url(#snow)"/>
<path transform="translate(713.4,107.6)" d="M0,-4.6V4.6M-4.6,0H4.6M-3.3,-3.3L3.3,3.3M-3.3,3.3L3.3,-3.3" stroke="#3a72da" stroke-width="1.5" stroke-linecap="round" filter="url(#b1)" opacity="0.8"/>
<circle cx="713.4" cy="107.6" r="3.1" fill="#2e64d2" filter="url(#b1)"/>
<circle cx="665.1" cy="110.6" r="6.4" fill="url(#snow)"/>
<path transform="translate(665.1,110.6)" d="M0,-4.6V4.6M-4.6,0H4.6M-3.3,-3.3L3.3,3.3M-3.3,3.3L3.3,-3.3" stroke="#3a72da" stroke-width="1.5" stroke-linecap="round" filter="url(#b1)" opacity="0.8"/>
<circle cx="665.1" cy="110.6" r="3.1" fill="#2e64d2" filter="url(#b1)"/>
<circle cx="693.8" cy="112.4" r="6.4" fill="url(#snow)"/>
<path transform="translate(693.8,112.4)" d="M0,-4.6V4.6M-4.6,0H4.6M-3.3,-3.3L3.3,3.3M-3.3,3.3L3.3,-3.3" stroke="#3a72da" stroke-width="1.5" stroke-linecap="round" filter="url(#b1)" opacity="0.8"/>
<circle cx="693.8" cy="112.4" r="3.1" fill="#2e64d2" filter="url(#b1)"/>
<circle cx="643.7" cy="117.5" r="6.4" fill="url(#snow)"/>
<path transform="translate(643.7,117.5)" d="M0,-4.6V4.6M-4.6,0H4.6M-3.3,-3.3L3.3,3.3M-3.3,3.3L3.3,-3.3" stroke="#3a72da" stroke-width="1.5" stroke-linecap="round" filter="url(#b1)" opacity="0.8"/>
<circle cx="643.7" cy="117.5" r="3.1" fill="#2e64d2" filter="url(#b1)"/>
<circle cx="670.3" cy="126.9" r="6.4" fill="url(#snow)"/>
<path transform="translate(670.3,126.9)" d="M0,-4.6V4.6M-4.6,0H4.6M-3.3,-3.3L3.3,3.3M-3.3,3.3L3.3,-3.3" stroke="#3a72da" stroke-width="1.5" stroke-linecap="round" filter="url(#b1)" opacity="0.8"/>
<circle cx="670.3" cy="126.9" r="3.1" fill="#2e64d2" filter="url(#b1)"/>
<circle cx="697.5" cy="126.5" r="6.4" fill="url(#snow)"/>
<path transform="translate(697.5,126.5)" d="M0,-4.6V4.6M-4.6,0H4.6M-3.3,-3.3L3.3,3.3M-3.3,3.3L3.3,-3.3" stroke="#3a72da" stroke-width="1.5" stroke-linecap="round" filter="url(#b1)" opacity="0.8"/>
<circle cx="697.5" cy="126.5" r="3.1" fill="#2e64d2" filter="url(#b1)"/>
<path d="M437.5,185.3 H512 L566.4,285.4 H639" fill="none" stroke="#f0401a" stroke-width="4.3" stroke-linejoin="miter"/>
<g stroke="#8c4a34" stroke-width="1.1"><path d="M432.90000000000003,124.6 H439.7 V151.3 A8.6,8.6 0 1 1 432.90000000000003,151.3 Z" fill="#fbfae4"/><path d="M433.8,135.6 H438.8 V151.8 A8.1,8.1 0 1 1 433.8,151.8 Z" fill="#f23a30" stroke="none"/></g>
<g stroke="#3a3692" stroke-width="1.1"><path d="M645.2,289.8 H652.0 V317.5 A8.4,8.4 0 1 1 645.2,317.5 Z" fill="#fbfae4"/><path d="M646.1,300.2 H651.1 V317.9 A7.9,7.9 0 1 1 646.1,317.9 Z" fill="#4a44b4" stroke="none"/></g>
<text x="411.3" y="111.8" font-size="23.2" font-weight="bold" fill="#e2421e" stroke="#e2421e" stroke-width="0.45" textLength="51" lengthAdjust="spacingAndGlyphs">+20<tspan font-size="18.5" dy="-6.4">o</tspan><tspan dy="6.4">C</tspan></text>
<text x="683.4" y="319.9" font-size="22.4" font-weight="bold" fill="#4a409e" stroke="#4a409e" stroke-width="0.45" textLength="45" lengthAdjust="spacingAndGlyphs">-20<tspan font-size="18.5" dy="-6.4">o</tspan><tspan dy="6.4">C</tspan></text>
<g transform="translate(69.5,403)">
<rect x="0" y="0" width="43.5" height="301" fill="#7a4c20"/>
<rect x="1" y="1" width="39" height="299" fill="#f0a014"/>
<path d="M3,94.5H40 M3,105H40" stroke="#e2741a" stroke-width="1.1" stroke-dasharray="7,4.5" fill="none"/>
<rect x="45" y="0" width="59.5" height="301" fill="#fbf7d0"/>
<rect x="46.6" y="0.8" width="56.4" height="299.4" fill="#f7ea5e" stroke="#e6c424" stroke-width="1.8"/>
<clipPath id="ci3"><rect x="47.4" y="1.6" width="54.8" height="297.8"/></clipPath>
<g clip-path="url(#ci3)" fill="#f9f07a" stroke="#d9ac1e" stroke-width="1.75">
<path d="M46.4,-3.1 L53.4,1.4 L46.4,5.9Z M103.2,-9.1 L96.7,-5.7 L103.2,-2.3Z M46.4,11.1 L53.4,15.6 L46.4,20.1Z M103.2,5.1 L96.7,8.5 L103.2,11.9Z M46.4,25.3 L53.4,29.9 L46.4,34.4Z M103.2,19.3 L96.7,22.7 L103.2,26.1Z M46.4,39.6 L53.4,44.1 L46.4,48.6Z M103.2,33.6 L96.7,37.0 L103.2,40.4Z M46.4,53.8 L53.4,58.3 L46.4,62.9Z M103.2,47.8 L96.7,51.2 L103.2,54.6Z M46.4,68.1 L53.4,72.6 L46.4,77.1Z M103.2,62.1 L96.7,65.5 L103.2,68.9Z M46.4,82.3 L53.4,86.8 L46.4,91.3Z M103.2,76.3 L96.7,79.7 L103.2,83.1Z M46.4,96.5 L53.4,101.1 L46.4,105.6Z M103.2,90.5 L96.7,93.9 L103.2,97.3Z M46.4,110.8 L53.4,115.3 L46.4,119.8Z M103.2,104.8 L96.7,108.2 L103.2,111.6Z M46.4,125.0 L53.4,129.5 L46.4,134.1Z M103.2,119.0 L96.7,122.4 L103.2,125.8Z M46.4,139.3 L53.4,143.8 L46.4,148.3Z M103.2,133.3 L96.7,136.7 L103.2,140.1Z M46.4,153.5 L53.4,158.0 L46.4,162.5Z M103.2,147.5 L96.7,150.9 L103.2,154.3Z M46.4,167.7 L53.4,172.3 L46.4,176.8Z M103.2,161.7 L96.7,165.1 L103.2,168.5Z M46.4,182.0 L53.4,186.5 L46.4,191.0Z M103.2,176.0 L96.7,179.4 L103.2,182.8Z M46.4,196.2 L53.4,200.7 L46.4,205.3Z M103.2,190.2 L96.7,193.6 L103.2,197.0Z M46.4,210.5 L53.4,215.0 L46.4,219.5Z M103.2,204.5 L96.7,207.9 L103.2,211.3Z M46.4,224.7 L53.4,229.2 L46.4,233.7Z M103.2,218.7 L96.7,222.1 L103.2,225.5Z M46.4,238.9 L53.4,243.5 L46.4,248.0Z M103.2,232.9 L96.7,236.3 L103.2,239.7Z M46.4,253.2 L53.4,257.7 L46.4,262.2Z M103.2,247.2 L96.7,250.6 L103.2,254.0Z M46.4,267.4 L53.4,271.9 L46.4,276.5Z M103.2,261.4 L96.7,264.8 L103.2,268.2Z M46.4,281.7 L53.4,286.2 L46.4,290.7Z M103.2,275.7 L96.7,279.1 L103.2,282.5Z M46.4,295.9 L53.4,300.4 L46.4,304.9Z M103.2,289.9 L96.7,293.3 L103.2,296.7Z M46.4,310.1 L53.4,314.7 L46.4,319.2Z M103.2,304.1 L96.7,307.5 L103.2,310.9Z" fill="#f0d63a" stroke="none"/>
<path d="M89.0,-5.7 C70.4,-11.3 48.6,-11.8 48.6,-5.7 C48.6,0.3 70.4,-0.2 89.0,-5.7Z"/>
<path d="M89.0,-5.7 C95.7,-3.9 101.2,-2.6 101.2,1.4 C101.2,5.4 95.7,6.6 89.0,8.5" fill="none"/>
<path d="M89.0,8.5 C70.4,2.9 48.6,2.5 48.6,8.5 C48.6,14.5 70.4,14.1 89.0,8.5Z"/>
<path d="M89.0,8.5 C95.7,10.4 101.2,11.6 101.2,15.6 C101.2,19.6 95.7,20.9 89.0,22.7" fill="none"/>
<path d="M89.0,22.7 C70.4,17.2 48.6,16.7 48.6,22.7 C48.6,28.8 70.4,28.3 89.0,22.7Z"/>
<path d="M89.0,22.7 C95.7,24.6 101.2,25.9 101.2,29.9 C101.2,33.8 95.7,35.1 89.0,37.0" fill="none"/>
<path d="M89.0,37.0 C70.4,31.4 48.6,31.0 48.6,37.0 C48.6,43.0 70.4,42.6 89.0,37.0Z"/>
<path d="M89.0,37.0 C95.7,38.8 101.2,40.1 101.2,44.1 C101.2,48.1 95.7,49.4 89.0,51.2" fill="none"/>
<path d="M89.0,51.2 C70.4,45.6 48.6,45.2 48.6,51.2 C48.6,57.2 70.4,56.8 89.0,51.2Z"/>
<path d="M89.0,51.2 C95.7,53.1 101.2,54.4 101.2,58.3 C101.2,62.3 95.7,63.6 89.0,65.5" fill="none"/>
<path d="M89.0,65.5 C70.4,59.9 48.6,59.4 48.6,65.5 C48.6,71.5 70.4,71.1 89.0,65.5Z"/>
<path d="M89.0,65.5 C95.7,67.3 101.2,68.6 101.2,72.6 C101.2,76.6 95.7,77.8 89.0,79.7" fill="none"/>
<path d="M89.0,79.7 C70.4,74.1 48.6,73.7 48.6,79.7 C48.6,85.7 70.4,85.3 89.0,79.7Z"/>
<path d="M89.0,79.7 C95.7,81.6 101.2,82.8 101.2,86.8 C101.2,90.8 95.7,92.1 89.0,93.9" fill="none"/>
<path d="M89.0,93.9 C70.4,88.3 48.6,87.9 48.6,93.9 C48.6,100.0 70.4,99.5 89.0,93.9Z"/>
<path d="M89.0,93.9 C95.7,95.8 101.2,97.1 101.2,101.1 C101.2,105.0 95.7,106.3 89.0,108.2" fill="none"/>
<path d="M89.0,108.2 C70.4,102.6 48.6,102.2 48.6,108.2 C48.6,114.2 70.4,113.8 89.0,108.2Z"/>
<path d="M89.0,108.2 C95.7,110.0 101.2,111.3 101.2,115.3 C101.2,119.3 95.7,120.6 89.0,122.4" fill="none"/>
<path d="M89.0,122.4 C70.4,116.8 48.6,116.4 48.6,122.4 C48.6,128.4 70.4,128.0 89.0,122.4Z"/>
<path d="M89.0,122.4 C95.7,124.3 101.2,125.6 101.2,129.5 C101.2,133.5 95.7,134.8 89.0,136.7" fill="none"/>
<path d="M89.0,136.7 C70.4,131.1 48.6,130.6 48.6,136.7 C48.6,142.7 70.4,142.2 89.0,136.7Z"/>
<path d="M89.0,136.7 C95.7,138.5 101.2,139.8 101.2,143.8 C101.2,147.8 95.7,149.0 89.0,150.9" fill="none"/>
<path d="M89.0,150.9 C70.4,145.3 48.6,144.9 48.6,150.9 C48.6,156.9 70.4,156.5 89.0,150.9Z"/>
<path d="M89.0,150.9 C95.7,152.8 101.2,154.0 101.2,158.0 C101.2,162.0 95.7,163.3 89.0,165.1" fill="none"/>
<path d="M89.0,165.1 C70.4,159.6 48.6,159.1 48.6,165.1 C48.6,171.2 70.4,170.7 89.0,165.1Z"/>
<path d="M89.0,165.1 C95.7,167.0 101.2,168.3 101.2,172.3 C101.2,176.2 95.7,177.5 89.0,179.4" fill="none"/>
<path d="M89.0,179.4 C70.4,173.8 48.6,173.4 48.6,179.4 C48.6,185.4 70.4,185.0 89.0,179.4Z"/>
<path d="M89.0,179.4 C95.7,181.2 101.2,182.5 101.2,186.5 C101.2,190.5 95.7,191.8 89.0,193.6" fill="none"/>
<path d="M89.0,193.6 C70.4,188.0 48.6,187.6 48.6,193.6 C48.6,199.6 70.4,199.2 89.0,193.6Z"/>
<path d="M89.0,193.6 C95.7,195.5 101.2,196.8 101.2,200.7 C101.2,204.7 95.7,206.0 89.0,207.9" fill="none"/>
<path d="M89.0,207.9 C70.4,202.3 48.6,201.8 48.6,207.9 C48.6,213.9 70.4,213.5 89.0,207.9Z"/>
<path d="M89.0,207.9 C95.7,209.7 101.2,211.0 101.2,215.0 C101.2,219.0 95.7,220.2 89.0,222.1" fill="none"/>
<path d="M89.0,222.1 C70.4,216.5 48.6,216.1 48.6,222.1 C48.6,228.1 70.4,227.7 89.0,222.1Z"/>
<path d="M89.0,222.1 C95.7,224.0 101.2,225.2 101.2,229.2 C101.2,233.2 95.7,234.5 89.0,236.3" fill="none"/>
<path d="M89.0,236.3 C70.4,230.8 48.6,230.3 48.6,236.3 C48.6,242.4 70.4,241.9 89.0,236.3Z"/>
<path d="M89.0,236.3 C95.7,238.2 101.2,239.5 101.2,243.5 C101.2,247.4 95.7,248.7 89.0,250.6" fill="none"/>
<path d="M89.0,250.6 C70.4,245.0 48.6,244.6 48.6,250.6 C48.6,256.6 70.4,256.2 89.0,250.6Z"/>
<path d="M89.0,250.6 C95.7,252.4 101.2,253.7 101.2,257.7 C101.2,261.7 95.7,263.0 89.0,264.8" fill="none"/>
<path d="M89.0,264.8 C70.4,259.2 48.6,258.8 48.6,264.8 C48.6,270.8 70.4,270.4 89.0,264.8Z"/>
<path d="M89.0,264.8 C95.7,266.7 101.2,268.0 101.2,271.9 C101.2,275.9 95.7,277.2 89.0,279.1" fill="none"/>
<path d="M89.0,279.1 C70.4,273.5 48.6,273.0 48.6,279.1 C48.6,285.1 70.4,284.7 89.0,279.1Z"/>
<path d="M89.0,279.1 C95.7,280.9 101.2,282.2 101.2,286.2 C101.2,290.2 95.7,291.4 89.0,293.3" fill="none"/>
<path d="M89.0,293.3 C70.4,287.7 48.6,287.3 48.6,293.3 C48.6,299.3 70.4,298.9 89.0,293.3Z"/>
<path d="M89.0,293.3 C95.7,295.2 101.2,296.4 101.2,300.4 C101.2,304.4 95.7,305.7 89.0,307.5" fill="none"/>
<path d="M89.0,307.5 C70.4,302.0 48.6,301.5 48.6,307.5 C48.6,313.6 70.4,313.1 89.0,307.5Z"/>
<path d="M89.0,307.5 C95.7,309.4 101.2,310.7 101.2,314.7 C101.2,318.6 95.7,319.9 89.0,321.8" fill="none"/>
</g>
<rect x="105" y="0" width="34.5" height="301" fill="#4a50a8"/>
<rect x="106" y="1" width="29.19999999999999" height="299" fill="#b6bfe9"/>
<rect x="139.2" y="0" width="6.3" height="105" fill="#5c5a42"/>
<rect x="139.6" y="0.8" width="4.9" height="103.4" fill="#aaa29c"/>
<rect x="139.2" y="110" width="6.3" height="191" fill="#5c5a42"/>
<rect x="139.6" y="110.8" width="4.9" height="189.4" fill="#aaa29c"/>
<path d="M142,2V103 M142,112V299" stroke="#8c8680" stroke-width="2.2" stroke-dasharray="1.6,1.4" fill="none"/>
<rect x="138.4" y="105" width="7.4" height="5" fill="#fbfae0"/>
<rect x="45" y="81.8" width="60" height="34.6" fill="#fbf7d0"/>
<path d="M46.8,82h4.8v3.6a2.4,2.6 0 0 1 -4.8,0z M46.8,116.2h4.8v-3.4a2.4,2.6 0 0 0 -4.8,0z" fill="#f6e84a" stroke="#dab424" stroke-width="0.9"/>
<rect x="51.6" y="82.4" width="57" height="33.6" fill="#bdd1f2"/>
<rect x="47" y="88.4" width="6" height="22.4" fill="#bdd1f2"/>
<path d="M52,82.4H108.4 M52,116H108.4" stroke="#6470b2" stroke-width="1" stroke-dasharray="2.6,0.9" fill="none"/>
<path d="M107.2,82.4 L111.2,78.1 L122.7,78.1 L122.7,122.1 L111.2,122.1 L107.2,116 Z" fill="#bdd1f2" stroke="#6470b2" stroke-width="0.9" stroke-dasharray="2.6,0.9"/>
<path d="M106.4,83 h2.6 v32.4 h-2.6z" fill="#bdd1f2"/>
<path d="M58,88.9H109 M58,109.1H109" stroke="#7888c6" stroke-width="1" fill="none"/>
<path d="M103,93.7H87V105.5H103 M103,93.7 L111.6,98.2 M103,105.5 L111.6,101" stroke="#6470b2" stroke-width="0.9" stroke-dasharray="2.2,0.9" fill="none"/>
<path d="M108.6,83.2 L113.4,88.8 L110.6,93.6 M108.6,115.2 L113.4,109.6 L110.6,104.8" stroke="#5862aa" stroke-width="0.9" fill="none"/>
<path d="M46.6,88.3 L46.6,110.9 L52,111.1 L53.8,113.9 L55,115.6 L58,114.7 L58,111.5 L55,110.9 L52.6,109.1 L51.4,106.7 L49.4,106.7 L49.4,92.5 L51.4,92.5 L52.6,90.1 L55,88.3 L58,87.7 L58,84.5 L55,83.6 L53.8,85.3 L52,88.1 Z" fill="#3a3cc2" stroke="#3a3cc2" stroke-width="0.5" stroke-linejoin="round"/>
<path d="M53.6,93.5V105.7 M57.8,90V108.2" stroke="#8c9cd6" stroke-width="0.8" fill="none"/>
<circle cx="117.4" cy="90.1" r="2.5" fill="#e6ecfb" stroke="#4a54a4" stroke-width="1.2"/>
<circle cx="117.4" cy="109.1" r="2.5" fill="#e6ecfb" stroke="#4a54a4" stroke-width="1.2"/>
<rect x="116.3" y="80.2" width="2.2" height="2.2" fill="#3c4498"/>
<rect x="116.3" y="117.6" width="2.2" height="2.2" fill="#3c4498"/>
</g>
<g transform="translate(190.0,420.0)" fill="#4646a4"><path d="M0,0 L7,5.9 L3.6,5.5 C5.6,9.8 4.8,13.6 2.6,17.6 C0.6,21.2 1,25.6 4.8,31.4 L1.4,35 C-4.2,30 -5.4,23.4 -2.8,18 C-0.9,14 -0.6,10 -1.6,5.5 L-6.6,6.1 Z"/></g>
<g transform="translate(190.0,635.0)" fill="#4646a4"><path d="M0,0 L7,5.9 L3.6,5.5 C5.6,9.8 4.8,13.6 2.6,17.6 C0.6,21.2 1,25.6 4.8,31.4 L1.4,35 C-4.2,30 -5.4,23.4 -2.8,18 C-0.9,14 -0.6,10 -1.6,5.5 L-6.6,6.1 Z"/></g>
<g transform="translate(73.0,538.4)"><path d="M1,0.6 C4,-2.6 8,-2.8 12,0.4 C15.5,3.2 20,3 26.5,0.3" fill="none" stroke="#7cb92e" stroke-width="3.3" stroke-linecap="round"/><path d="M25.3,-4.9 L33.5,0.2 L25.3,5.1 Z" fill="#7cb92e" stroke="#7cb92e" stroke-width="0.8" stroke-linejoin="round"/></g>
<g transform="translate(111.8,538.4)"><path d="M1,0.6 C4,-2.6 8,-2.8 12,0.4 C15.5,3.2 20,3 26.5,0.3" fill="none" stroke="#7cb92e" stroke-width="3.3" stroke-linecap="round"/><path d="M25.3,-4.9 L33.5,0.2 L25.3,5.1 Z" fill="#7cb92e" stroke="#7cb92e" stroke-width="0.8" stroke-linejoin="round"/></g>
<g transform="translate(150.8,538.4)"><path d="M1,0.6 C4,-2.6 8,-2.8 12,0.4 C15.5,3.2 20,3 26,0.3" fill="none" stroke="#7cb92e" stroke-width="3.3" stroke-linecap="round"/><path d="M24.8,-4.9 L33,0.2 L24.8,5.1 Z" fill="#7cb92e" stroke="#7cb92e" stroke-width="0.8" stroke-linejoin="round"/></g>
<g transform="translate(73.0,556.6)"><path d="M1,0.6 C4,-2.6 8,-2.8 12,0.4 C15.5,3.2 20,3 26.5,0.3" fill="none" stroke="#7cb92e" stroke-width="3.3" stroke-linecap="round"/><path d="M25.3,-4.9 L33.5,0.2 L25.3,5.1 Z" fill="#7cb92e" stroke="#7cb92e" stroke-width="0.8" stroke-linejoin="round"/></g>
<g transform="translate(111.8,556.6)"><path d="M1,0.6 C4,-2.6 8,-2.8 12,0.4 C15.5,3.2 20,3 26.5,0.3" fill="none" stroke="#7cb92e" stroke-width="3.3" stroke-linecap="round"/><path d="M25.3,-4.9 L33.5,0.2 L25.3,5.1 Z" fill="#7cb92e" stroke="#7cb92e" stroke-width="0.8" stroke-linejoin="round"/></g>
<g transform="translate(150.8,556.6)"><path d="M1,0.6 C4,-2.6 8,-2.8 12,0.4 C15.5,3.2 20,3 26,0.3" fill="none" stroke="#7cb92e" stroke-width="3.3" stroke-linecap="round"/><path d="M24.8,-4.9 L33,0.2 L24.8,5.1 Z" fill="#7cb92e" stroke="#7cb92e" stroke-width="0.8" stroke-linejoin="round"/></g>
<g transform="translate(73.0,575.0)"><path d="M1,0.6 C4,-2.6 8,-2.8 12,0.4 C15.5,3.2 20,3 26.5,0.3" fill="none" stroke="#7cb92e" stroke-width="3.3" stroke-linecap="round"/><path d="M25.3,-4.9 L33.5,0.2 L25.3,5.1 Z" fill="#7cb92e" stroke="#7cb92e" stroke-width="0.8" stroke-linejoin="round"/></g>
<g transform="translate(111.8,575.0)"><path d="M1,0.6 C4,-2.6 8,-2.8 12,0.4 C15.5,3.2 20,3 26.5,0.3" fill="none" stroke="#7cb92e" stroke-width="3.3" stroke-linecap="round"/><path d="M25.3,-4.9 L33.5,0.2 L25.3,5.1 Z" fill="#7cb92e" stroke="#7cb92e" stroke-width="0.8" stroke-linejoin="round"/></g>
<g transform="translate(150.8,575.0)"><path d="M1,0.6 C4,-2.6 8,-2.8 12,0.4 C15.5,3.2 20,3 26,0.3" fill="none" stroke="#7cb92e" stroke-width="3.3" stroke-linecap="round"/><path d="M24.8,-4.9 L33,0.2 L24.8,5.1 Z" fill="#7cb92e" stroke="#7cb92e" stroke-width="0.8" stroke-linejoin="round"/></g>
<g transform="translate(73.0,593.7)"><path d="M1,0.6 C4,-2.6 8,-2.8 12,0.4 C15.5,3.2 20,3 26.5,0.3" fill="none" stroke="#7cb92e" stroke-width="3.3" stroke-linecap="round"/><path d="M25.3,-4.9 L33.5,0.2 L25.3,5.1 Z" fill="#7cb92e" stroke="#7cb92e" stroke-width="0.8" stroke-linejoin="round"/></g>
<g transform="translate(111.8,593.7)"><path d="M1,0.6 C4,-2.6 8,-2.8 12,0.4 C15.5,3.2 20,3 26.5,0.3" fill="none" stroke="#7cb92e" stroke-width="3.3" stroke-linecap="round"/><path d="M25.3,-4.9 L33.5,0.2 L25.3,5.1 Z" fill="#7cb92e" stroke="#7cb92e" stroke-width="0.8" stroke-linejoin="round"/></g>
<g transform="translate(150.8,593.7)"><path d="M1,0.6 C4,-2.6 8,-2.8 12,0.4 C15.5,3.2 20,3 26,0.3" fill="none" stroke="#7cb92e" stroke-width="3.3" stroke-linecap="round"/><path d="M24.8,-4.9 L33,0.2 L24.8,5.1 Z" fill="#7cb92e" stroke="#7cb92e" stroke-width="0.8" stroke-linejoin="round"/></g>
<g transform="translate(73.0,612.0)"><path d="M1,0.6 C4,-2.6 8,-2.8 12,0.4 C15.5,3.2 20,3 26.5,0.3" fill="none" stroke="#7cb92e" stroke-width="3.3" stroke-linecap="round"/><path d="M25.3,-4.9 L33.5,0.2 L25.3,5.1 Z" fill="#7cb92e" stroke="#7cb92e" stroke-width="0.8" stroke-linejoin="round"/></g>
<g transform="translate(111.8,612.0)"><path d="M1,0.6 C4,-2.6 8,-2.8 12,0.4 C15.5,3.2 20,3 26.5,0.3" fill="none" stroke="#7cb92e" stroke-width="3.3" stroke-linecap="round"/><path d="M25.3,-4.9 L33.5,0.2 L25.3,5.1 Z" fill="#7cb92e" stroke="#7cb92e" stroke-width="0.8" stroke-linejoin="round"/></g>
<g transform="translate(150.8,612.0)"><path d="M1,0.6 C4,-2.6 8,-2.8 12,0.4 C15.5,3.2 20,3 26,0.3" fill="none" stroke="#7cb92e" stroke-width="3.3" stroke-linecap="round"/><path d="M24.8,-4.9 L33,0.2 L24.8,5.1 Z" fill="#7cb92e" stroke="#7cb92e" stroke-width="0.8" stroke-linejoin="round"/></g>
<g transform="translate(73.0,631.0)"><path d="M1,0.6 C4,-2.6 8,-2.8 12,0.4 C15.5,3.2 20,3 26.5,0.3" fill="none" stroke="#7cb92e" stroke-width="3.3" stroke-linecap="round"/><path d="M25.3,-4.9 L33.5,0.2 L25.3,5.1 Z" fill="#7cb92e" stroke="#7cb92e" stroke-width="0.8" stroke-linejoin="round"/></g>
<g transform="translate(111.8,631.0)"><path d="M1,0.6 C4,-2.6 8,-2.8 12,0.4 C15.5,3.2 20,3 26.5,0.3" fill="none" stroke="#7cb92e" stroke-width="3.3" stroke-linecap="round"/><path d="M25.3,-4.9 L33.5,0.2 L25.3,5.1 Z" fill="#7cb92e" stroke="#7cb92e" stroke-width="0.8" stroke-linejoin="round"/></g>
<g transform="translate(150.8,631.0)"><path d="M1,0.6 C4,-2.6 8,-2.8 12,0.4 C15.5,3.2 20,3 26,0.3" fill="none" stroke="#7cb92e" stroke-width="3.3" stroke-linecap="round"/><path d="M24.8,-4.9 L33,0.2 L24.8,5.1 Z" fill="#7cb92e" stroke="#7cb92e" stroke-width="0.8" stroke-linejoin="round"/></g>
<g transform="translate(70.0,650.6)"><path d="M1,0.6 C4,-2.6 8,-2.8 12,0.4 C15.5,3.2 20,3 26.5,0.3" fill="none" stroke="#7cb92e" stroke-width="3.3" stroke-linecap="round"/><path d="M25.3,-4.9 L33.5,0.2 L25.3,5.1 Z" fill="#7cb92e" stroke="#7cb92e" stroke-width="0.8" stroke-linejoin="round"/></g>
<g transform="translate(108.8,650.6)"><path d="M1,0.6 C4,-2.6 8,-2.8 12,0.4 C15.5,3.2 20,3 26.5,0.3" fill="none" stroke="#7cb92e" stroke-width="3.3" stroke-linecap="round"/><path d="M25.3,-4.9 L33.5,0.2 L25.3,5.1 Z" fill="#7cb92e" stroke="#7cb92e" stroke-width="0.8" stroke-linejoin="round"/></g>
<g transform="translate(147.8,650.6)"><path d="M1,0.6 C4,-2.6 8,-2.8 12,0.4 C15.5,3.2 20,3 26,0.3" fill="none" stroke="#7cb92e" stroke-width="3.3" stroke-linecap="round"/><path d="M24.8,-4.9 L33,0.2 L24.8,5.1 Z" fill="#7cb92e" stroke="#7cb92e" stroke-width="0.8" stroke-linejoin="round"/></g>
<g transform="translate(463.75,401)">
<rect x="0" y="0" width="43.5" height="301" fill="#7a4c20"/>
<rect x="1" y="1" width="39" height="299" fill="#f0a014"/>
<path d="M3,94.5H40 M3,105H40" stroke="#e2741a" stroke-width="1.1" stroke-dasharray="7,4.5" fill="none"/>
<rect x="45" y="0" width="59.5" height="301" fill="#fbf7d0"/>
<rect x="46.6" y="0.8" width="56.4" height="299.4" fill="#f7ea5e" stroke="#e6c424" stroke-width="1.8"/>
<clipPath id="ci4"><rect x="47.4" y="1.6" width="54.8" height="297.8"/></clipPath>
<g clip-path="url(#ci4)" fill="#f9f07a" stroke="#d9ac1e" stroke-width="1.75">
<path d="M46.4,-3.1 L53.4,1.4 L46.4,5.9Z M103.2,-9.1 L96.7,-5.7 L103.2,-2.3Z M46.4,11.1 L53.4,15.6 L46.4,20.1Z M103.2,5.1 L96.7,8.5 L103.2,11.9Z M46.4,25.3 L53.4,29.9 L46.4,34.4Z M103.2,19.3 L96.7,22.7 L103.2,26.1Z M46.4,39.6 L53.4,44.1 L46.4,48.6Z M103.2,33.6 L96.7,37.0 L103.2,40.4Z M46.4,53.8 L53.4,58.3 L46.4,62.9Z M103.2,47.8 L96.7,51.2 L103.2,54.6Z M46.4,68.1 L53.4,72.6 L46.4,77.1Z M103.2,62.1 L96.7,65.5 L103.2,68.9Z M46.4,82.3 L53.4,86.8 L46.4,91.3Z M103.2,76.3 L96.7,79.7 L103.2,83.1Z M46.4,96.5 L53.4,101.1 L46.4,105.6Z M103.2,90.5 L96.7,93.9 L103.2,97.3Z M46.4,110.8 L53.4,115.3 L46.4,119.8Z M103.2,104.8 L96.7,108.2 L103.2,111.6Z M46.4,125.0 L53.4,129.5 L46.4,134.1Z M103.2,119.0 L96.7,122.4 L103.2,125.8Z M46.4,139.3 L53.4,143.8 L46.4,148.3Z M103.2,133.3 L96.7,136.7 L103.2,140.1Z M46.4,153.5 L53.4,158.0 L46.4,162.5Z M103.2,147.5 L96.7,150.9 L103.2,154.3Z M46.4,167.7 L53.4,172.3 L46.4,176.8Z M103.2,161.7 L96.7,165.1 L103.2,168.5Z M46.4,182.0 L53.4,186.5 L46.4,191.0Z M103.2,176.0 L96.7,179.4 L103.2,182.8Z M46.4,196.2 L53.4,200.7 L46.4,205.3Z M103.2,190.2 L96.7,193.6 L103.2,197.0Z M46.4,210.5 L53.4,215.0 L46.4,219.5Z M103.2,204.5 L96.7,207.9 L103.2,211.3Z M46.4,224.7 L53.4,229.2 L46.4,233.7Z M103.2,218.7 L96.7,222.1 L103.2,225.5Z M46.4,238.9 L53.4,243.5 L46.4,248.0Z M103.2,232.9 L96.7,236.3 L103.2,239.7Z M46.4,253.2 L53.4,257.7 L46.4,262.2Z M103.2,247.2 L96.7,250.6 L103.2,254.0Z M46.4,267.4 L53.4,271.9 L46.4,276.5Z M103.2,261.4 L96.7,264.8 L103.2,268.2Z M46.4,281.7 L53.4,286.2 L46.4,290.7Z M103.2,275.7 L96.7,279.1 L103.2,282.5Z M46.4,295.9 L53.4,300.4 L46.4,304.9Z M103.2,289.9 L96.7,293.3 L103.2,296.7Z M46.4,310.1 L53.4,314.7 L46.4,319.2Z M103.2,304.1 L96.7,307.5 L103.2,310.9Z" fill="#f0d63a" stroke="none"/>
<path d="M89.0,-5.7 C70.4,-11.3 48.6,-11.8 48.6,-5.7 C48.6,0.3 70.4,-0.2 89.0,-5.7Z"/>
<path d="M89.0,-5.7 C95.7,-3.9 101.2,-2.6 101.2,1.4 C101.2,5.4 95.7,6.6 89.0,8.5" fill="none"/>
<path d="M89.0,8.5 C70.4,2.9 48.6,2.5 48.6,8.5 C48.6,14.5 70.4,14.1 89.0,8.5Z"/>
<path d="M89.0,8.5 C95.7,10.4 101.2,11.6 101.2,15.6 C101.2,19.6 95.7,20.9 89.0,22.7" fill="none"/>
<path d="M89.0,22.7 C70.4,17.2 48.6,16.7 48.6,22.7 C48.6,28.8 70.4,28.3 89.0,22.7Z"/>
<path d="M89.0,22.7 C95.7,24.6 101.2,25.9 101.2,29.9 C101.2,33.8 95.7,35.1 89.0,37.0" fill="none"/>
<path d="M89.0,37.0 C70.4,31.4 48.6,31.0 48.6,37.0 C48.6,43.0 70.4,42.6 89.0,37.0Z"/>
<path d="M89.0,37.0 C95.7,38.8 101.2,40.1 101.2,44.1 C101.2,48.1 95.7,49.4 89.0,51.2" fill="none"/>
<path d="M89.0,51.2 C70.4,45.6 48.6,45.2 48.6,51.2 C48.6,57.2 70.4,56.8 89.0,51.2Z"/>
<path d="M89.0,51.2 C95.7,53.1 101.2,54.4 101.2,58.3 C101.2,62.3 95.7,63.6 89.0,65.5" fill="none"/>
<path d="M89.0,65.5 C70.4,59.9 48.6,59.4 48.6,65.5 C48.6,71.5 70.4,71.1 89.0,65.5Z"/>
<path d="M89.0,65.5 C95.7,67.3 101.2,68.6 101.2,72.6 C101.2,76.6 95.7,77.8 89.0,79.7" fill="none"/>
<path d="M89.0,79.7 C70.4,74.1 48.6,73.7 48.6,79.7 C48.6,85.7 70.4,85.3 89.0,79.7Z"/>
<path d="M89.0,79.7 C95.7,81.6 101.2,82.8 101.2,86.8 C101.2,90.8 95.7,92.1 89.0,93.9" fill="none"/>
<path d="M89.0,93.9 C70.4,88.3 48.6,87.9 48.6,93.9 C48.6,100.0 70.4,99.5 89.0,93.9Z"/>
<path d="M89.0,93.9 C95.7,95.8 101.2,97.1 101.2,101.1 C101.2,105.0 95.7,106.3 89.0,108.2" fill="none"/>
<path d="M89.0,108.2 C70.4,102.6 48.6,102.2 48.6,108.2 C48.6,114.2 70.4,113.8 89.0,108.2Z"/>
<path d="M89.0,108.2 C95.7,110.0 101.2,111.3 101.2,115.3 C101.2,119.3 95.7,120.6 89.0,122.4" fill="none"/>
<path d="M89.0,122.4 C70.4,116.8 48.6,116.4 48.6,122.4 C48.6,128.4 70.4,128.0 89.0,122.4Z"/>
<path d="M89.0,122.4 C95.7,124.3 101.2,125.6 101.2,129.5 C101.2,133.5 95.7,134.8 89.0,136.7" fill="none"/>
<path d="M89.0,136.7 C70.4,131.1 48.6,130.6 48.6,136.7 C48.6,142.7 70.4,142.2 89.0,136.7Z"/>
<path d="M89.0,136.7 C95.7,138.5 101.2,139.8 101.2,143.8 C101.2,147.8 95.7,149.0 89.0,150.9" fill="none"/>
<path d="M89.0,150.9 C70.4,145.3 48.6,144.9 48.6,150.9 C48.6,156.9 70.4,156.5 89.0,150.9Z"/>
<path d="M89.0,150.9 C95.7,152.8 101.2,154.0 101.2,158.0 C101.2,162.0 95.7,163.3 89.0,165.1" fill="none"/>
<path d="M89.0,165.1 C70.4,159.6 48.6,159.1 48.6,165.1 C48.6,171.2 70.4,170.7 89.0,165.1Z"/>
<path d="M89.0,165.1 C95.7,167.0 101.2,168.3 101.2,172.3 C101.2,176.2 95.7,177.5 89.0,179.4" fill="none"/>
<path d="M89.0,179.4 C70.4,173.8 48.6,173.4 48.6,179.4 C48.6,185.4 70.4,185.0 89.0,179.4Z"/>
<path d="M89.0,179.4 C95.7,181.2 101.2,182.5 101.2,186.5 C101.2,190.5 95.7,191.8 89.0,193.6" fill="none"/>
<path d="M89.0,193.6 C70.4,188.0 48.6,187.6 48.6,193.6 C48.6,199.6 70.4,199.2 89.0,193.6Z"/>
<path d="M89.0,193.6 C95.7,195.5 101.2,196.8 101.2,200.7 C101.2,204.7 95.7,206.0 89.0,207.9" fill="none"/>
<path d="M89.0,207.9 C70.4,202.3 48.6,201.8 48.6,207.9 C48.6,213.9 70.4,213.5 89.0,207.9Z"/>
<path d="M89.0,207.9 C95.7,209.7 101.2,211.0 101.2,215.0 C101.2,219.0 95.7,220.2 89.0,222.1" fill="none"/>
<path d="M89.0,222.1 C70.4,216.5 48.6,216.1 48.6,222.1 C48.6,228.1 70.4,227.7 89.0,222.1Z"/>
<path d="M89.0,222.1 C95.7,224.0 101.2,225.2 101.2,229.2 C101.2,233.2 95.7,234.5 89.0,236.3" fill="none"/>
<path d="M89.0,236.3 C70.4,230.8 48.6,230.3 48.6,236.3 C48.6,242.4 70.4,241.9 89.0,236.3Z"/>
<path d="M89.0,236.3 C95.7,238.2 101.2,239.5 101.2,243.5 C101.2,247.4 95.7,248.7 89.0,250.6" fill="none"/>
<path d="M89.0,250.6 C70.4,245.0 48.6,244.6 48.6,250.6 C48.6,256.6 70.4,256.2 89.0,250.6Z"/>
<path d="M89.0,250.6 C95.7,252.4 101.2,253.7 101.2,257.7 C101.2,261.7 95.7,263.0 89.0,264.8" fill="none"/>
<path d="M89.0,264.8 C70.4,259.2 48.6,258.8 48.6,264.8 C48.6,270.8 70.4,270.4 89.0,264.8Z"/>
<path d="M89.0,264.8 C95.7,266.7 101.2,268.0 101.2,271.9 C101.2,275.9 95.7,277.2 89.0,279.1" fill="none"/>
<path d="M89.0,279.1 C70.4,273.5 48.6,273.0 48.6,279.1 C48.6,285.1 70.4,284.7 89.0,279.1Z"/>
<path d="M89.0,279.1 C95.7,280.9 101.2,282.2 101.2,286.2 C101.2,290.2 95.7,291.4 89.0,293.3" fill="none"/>
<path d="M89.0,293.3 C70.4,287.7 48.6,287.3 48.6,293.3 C48.6,299.3 70.4,298.9 89.0,293.3Z"/>
<path d="M89.0,293.3 C95.7,295.2 101.2,296.4 101.2,300.4 C101.2,304.4 95.7,305.7 89.0,307.5" fill="none"/>
<path d="M89.0,307.5 C70.4,302.0 48.6,301.5 48.6,307.5 C48.6,313.6 70.4,313.1 89.0,307.5Z"/>
<path d="M89.0,307.5 C95.7,309.4 101.2,310.7 101.2,314.7 C101.2,318.6 95.7,319.9 89.0,321.8" fill="none"/>
</g>
<rect x="105" y="0" width="34.5" height="301" fill="#4a50a8"/>
<rect x="106" y="1" width="28.19999999999999" height="299" fill="#b6bfe9"/>
<rect x="139.2" y="0" width="6.3" height="105" fill="#5c5a42"/>
<rect x="139.6" y="0.8" width="4.9" height="103.4" fill="#aaa29c"/>
<rect x="139.2" y="110" width="6.3" height="191" fill="#5c5a42"/>
<rect x="139.6" y="110.8" width="4.9" height="189.4" fill="#aaa29c"/>
<path d="M142,2V103 M142,112V299" stroke="#8c8680" stroke-width="2.2" stroke-dasharray="1.6,1.4" fill="none"/>
<rect x="138.4" y="105" width="7.4" height="5" fill="#fbfae0"/>
<rect x="45" y="81.8" width="60" height="34.6" fill="#fbf7d0"/>
<path d="M46.8,82h4.8v3.6a2.4,2.6 0 0 1 -4.8,0z M46.8,116.2h4.8v-3.4a2.4,2.6 0 0 0 -4.8,0z" fill="#f6e84a" stroke="#dab424" stroke-width="0.9"/>
<rect x="51.6" y="82.4" width="57" height="33.6" fill="#bdd1f2"/>
<rect x="47" y="88.4" width="6" height="22.4" fill="#bdd1f2"/>
<path d="M52,82.4H108.4 M52,116H108.4" stroke="#6470b2" stroke-width="1" stroke-dasharray="2.6,0.9" fill="none"/>
<path d="M107.2,82.4 L111.2,78.1 L122.7,78.1 L122.7,122.1 L111.2,122.1 L107.2,116 Z" fill="#bdd1f2" stroke="#6470b2" stroke-width="0.9" stroke-dasharray="2.6,0.9"/>
<path d="M106.4,83 h2.6 v32.4 h-2.6z" fill="#bdd1f2"/>
<path d="M58,88.9H109 M58,109.1H109" stroke="#7888c6" stroke-width="1" fill="none"/>
<path d="M103,93.7H87V105.5H103 M103,93.7 L111.6,98.2 M103,105.5 L111.6,101" stroke="#6470b2" stroke-width="0.9" stroke-dasharray="2.2,0.9" fill="none"/>
<path d="M108.6,83.2 L113.4,88.8 L110.6,93.6 M108.6,115.2 L113.4,109.6 L110.6,104.8" stroke="#5862aa" stroke-width="0.9" fill="none"/>
<path d="M46.6,88.3 L46.6,110.9 L52,111.1 L53.8,113.9 L55,115.6 L58,114.7 L58,111.5 L55,110.9 L52.6,109.1 L51.4,106.7 L49.4,106.7 L49.4,92.5 L51.4,92.5 L52.6,90.1 L55,88.3 L58,87.7 L58,84.5 L55,83.6 L53.8,85.3 L52,88.1 Z" fill="#3a3cc2" stroke="#3a3cc2" stroke-width="0.5" stroke-linejoin="round"/>
<path d="M53.6,93.5V105.7 M57.8,90V108.2" stroke="#8c9cd6" stroke-width="0.8" fill="none"/>
<circle cx="117.4" cy="90.1" r="2.5" fill="#e6ecfb" stroke="#4a54a4" stroke-width="1.2"/>
<circle cx="117.4" cy="109.1" r="2.5" fill="#e6ecfb" stroke="#4a54a4" stroke-width="1.2"/>
<rect x="116.3" y="80.2" width="2.2" height="2.2" fill="#3c4498"/>
<rect x="116.3" y="117.6" width="2.2" height="2.2" fill="#3c4498"/>
</g>
<path d="M654,470.6 Q626.8,546.7 654.8,622.7" fill="none" stroke="#6c6a64" stroke-width="1.65" stroke-linecap="round"/>
<path d="M664.3,482.7 Q642.4,546.9 665,611" fill="none" stroke="#6c6a64" stroke-width="1.65" stroke-linecap="round"/>
<path d="M674.6,492.5 Q655.4,546.6 674.6,600.8" fill="none" stroke="#6c6a64" stroke-width="1.65" stroke-linecap="round"/>
<path d="M685,502.8 Q669.3,547.3 684.4,591.8" fill="none" stroke="#6c6a64" stroke-width="1.65" stroke-linecap="round"/>
<path d="M694.7,511.9 Q683.3,547.0 694.7,582" fill="none" stroke="#6c6a64" stroke-width="1.65" stroke-linecap="round"/>
<path d="M705.2,515.6 L725,526 L725,567.2 L705.8,576.4 Q699.6,546 705.2,515.6 Z" fill="url(#cone)" stroke="#5e5c58" stroke-width="1.3" stroke-linejoin="round"/>
<path d="M725,526 L742.6,525.8 Q752.6,546 743.6,563.6 L725,567.2 Z" fill="#f5f17c" stroke="#5e5c58" stroke-width="1.3" stroke-linejoin="round"/>
</svg>
</body></html>
